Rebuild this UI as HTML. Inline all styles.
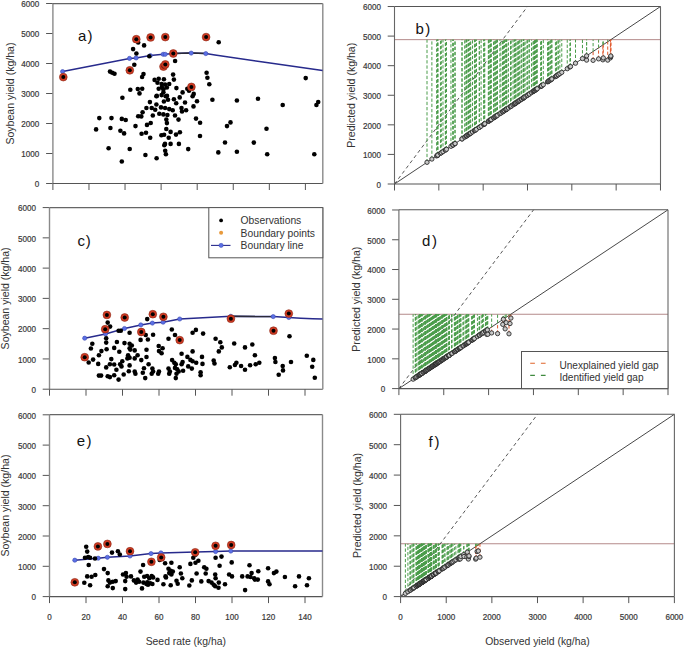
<!DOCTYPE html><html><head><meta charset="utf-8"><style>html,body{margin:0;padding:0;background:#fff}svg{display:block}</style></head><body>
<svg width="685" height="649" viewBox="0 0 685 649" font-family="'Liberation Sans', sans-serif">
<rect width="685" height="649" fill="#fff"/>
<line x1="46.1" y1="183.5" x2="52.9" y2="183.5" stroke="#555" stroke-width="1"/>
<text transform="translate(39.3,187.3) scale(0.92,1)" text-anchor="end" font-size="8.8" fill="#383838" stroke="#383838" stroke-width="0.2">0</text>
<line x1="46.1" y1="153.5" x2="52.9" y2="153.5" stroke="#555" stroke-width="1"/>
<text transform="translate(39.3,157.3) scale(0.92,1)" text-anchor="end" font-size="8.8" fill="#383838" stroke="#383838" stroke-width="0.2">1000</text>
<line x1="46.1" y1="123.5" x2="52.9" y2="123.5" stroke="#555" stroke-width="1"/>
<text transform="translate(39.3,127.3) scale(0.92,1)" text-anchor="end" font-size="8.8" fill="#383838" stroke="#383838" stroke-width="0.2">2000</text>
<line x1="46.1" y1="93.5" x2="52.9" y2="93.5" stroke="#555" stroke-width="1"/>
<text transform="translate(39.3,97.3) scale(0.92,1)" text-anchor="end" font-size="8.8" fill="#383838" stroke="#383838" stroke-width="0.2">3000</text>
<line x1="46.1" y1="63.5" x2="52.9" y2="63.5" stroke="#555" stroke-width="1"/>
<text transform="translate(39.3,67.3) scale(0.92,1)" text-anchor="end" font-size="8.8" fill="#383838" stroke="#383838" stroke-width="0.2">4000</text>
<line x1="46.1" y1="33.5" x2="52.9" y2="33.5" stroke="#555" stroke-width="1"/>
<text transform="translate(39.3,37.3) scale(0.92,1)" text-anchor="end" font-size="8.8" fill="#383838" stroke="#383838" stroke-width="0.2">5000</text>
<line x1="46.1" y1="3.5" x2="52.9" y2="3.5" stroke="#555" stroke-width="1"/>
<text transform="translate(39.3,7.3) scale(0.92,1)" text-anchor="end" font-size="8.8" fill="#383838" stroke="#383838" stroke-width="0.2">6000</text>
<line x1="52.9" y1="183.5" x2="52.9" y2="190" stroke="#555" stroke-width="1"/>
<line x1="88.97" y1="183.5" x2="88.97" y2="190" stroke="#555" stroke-width="1"/>
<line x1="125.04" y1="183.5" x2="125.04" y2="190" stroke="#555" stroke-width="1"/>
<line x1="161.12" y1="183.5" x2="161.12" y2="190" stroke="#555" stroke-width="1"/>
<line x1="197.19" y1="183.5" x2="197.19" y2="190" stroke="#555" stroke-width="1"/>
<line x1="233.26" y1="183.5" x2="233.26" y2="190" stroke="#555" stroke-width="1"/>
<line x1="269.33" y1="183.5" x2="269.33" y2="190" stroke="#555" stroke-width="1"/>
<line x1="305.4" y1="183.5" x2="305.4" y2="190" stroke="#555" stroke-width="1"/>
<line x1="52.9" y1="3.6" x2="52.9" y2="183.5" stroke="#8a8a8a" stroke-width="1.4"/>
<line x1="52.9" y1="183.5" x2="322.8" y2="183.5" stroke="#555" stroke-width="1.1"/>
<line x1="52.9" y1="3.6" x2="322.8" y2="3.6" stroke="#666" stroke-width="1.1"/>
<line x1="322.8" y1="3.6" x2="322.8" y2="183.5" stroke="#8a8a8a" stroke-width="1.4"/>
<text transform="translate(13.6,93.55) rotate(-90)" text-anchor="middle" font-size="10.55" fill="#333">Soybean yield (kg/ha)</text>
<text x="78.1" y="40.5" font-size="15" fill="#111">a</text><text x="87.5" y="40.5" font-size="15" fill="#111">)</text>
<polyline points="62.6,71.6 129.5,58.4 136.1,57.9 150.3,55.6 163.2,54.3 165.2,54.3 173.3,53.4 191.2,53.1 205.8,53.6 215,55.1 263,62 322.6,70.6" fill="none" stroke="#272a8c" stroke-width="1.5"/>
<polyline points="173.3,53.4 191.2,53.1 205.8,53.6" fill="none" stroke="#2a2a3a" stroke-width="1.5"/>
<circle cx="62.6" cy="71.6" r="2.1" fill="#5b70e6" stroke="#3a48b0" stroke-width="0.6"/>
<circle cx="129.5" cy="58.4" r="2.1" fill="#5b70e6" stroke="#3a48b0" stroke-width="0.6"/>
<circle cx="136.1" cy="57.9" r="2.1" fill="#5b70e6" stroke="#3a48b0" stroke-width="0.6"/>
<circle cx="150.3" cy="55.6" r="2.1" fill="#5b70e6" stroke="#3a48b0" stroke-width="0.6"/>
<circle cx="163.2" cy="54.3" r="2.1" fill="#5b70e6" stroke="#3a48b0" stroke-width="0.6"/>
<circle cx="165.2" cy="54.3" r="2.1" fill="#5b70e6" stroke="#3a48b0" stroke-width="0.6"/>
<circle cx="173.3" cy="53.4" r="2.1" fill="#5b70e6" stroke="#3a48b0" stroke-width="0.6"/>
<circle cx="191.2" cy="53.1" r="2.1" fill="#5b70e6" stroke="#3a48b0" stroke-width="0.6"/>
<circle cx="205.8" cy="53.6" r="2.1" fill="#5b70e6" stroke="#3a48b0" stroke-width="0.6"/>
<circle cx="110" cy="71.6" r="2.3" fill="#000"/>
<circle cx="112.3" cy="72.8" r="2.3" fill="#000"/>
<circle cx="114.5" cy="73.8" r="2.3" fill="#000"/>
<circle cx="133.1" cy="49.1" r="2.3" fill="#000"/>
<circle cx="136.4" cy="53.5" r="2.3" fill="#000"/>
<circle cx="134.3" cy="64.8" r="2.3" fill="#000"/>
<circle cx="138.2" cy="42.5" r="2.3" fill="#000"/>
<circle cx="144.1" cy="45.4" r="2.3" fill="#000"/>
<circle cx="143.5" cy="74.1" r="2.3" fill="#000"/>
<circle cx="142.1" cy="77" r="2.3" fill="#000"/>
<circle cx="130.3" cy="89.8" r="2.3" fill="#000"/>
<circle cx="137.8" cy="89" r="2.3" fill="#000"/>
<circle cx="142.2" cy="88.7" r="2.3" fill="#000"/>
<circle cx="139.5" cy="93.4" r="2.3" fill="#000"/>
<circle cx="122.4" cy="97.8" r="2.3" fill="#000"/>
<circle cx="149.3" cy="56.3" r="2.3" fill="#000"/>
<circle cx="175.1" cy="61" r="2.3" fill="#000"/>
<circle cx="173.1" cy="74.6" r="2.3" fill="#000"/>
<circle cx="173.9" cy="79.6" r="2.3" fill="#000"/>
<circle cx="206.6" cy="72.7" r="2.3" fill="#000"/>
<circle cx="207.4" cy="77.7" r="2.3" fill="#000"/>
<circle cx="209.3" cy="84.2" r="2.3" fill="#000"/>
<circle cx="218.7" cy="42.2" r="2.3" fill="#000"/>
<circle cx="212.4" cy="99.8" r="2.3" fill="#000"/>
<circle cx="187.3" cy="88.7" r="2.3" fill="#000"/>
<circle cx="189" cy="90.8" r="2.3" fill="#000"/>
<circle cx="193.7" cy="93.9" r="2.3" fill="#000"/>
<circle cx="192.6" cy="96.3" r="2.3" fill="#000"/>
<circle cx="197" cy="101.3" r="2.3" fill="#000"/>
<circle cx="193.5" cy="106.4" r="2.3" fill="#000"/>
<circle cx="196" cy="118.6" r="2.3" fill="#000"/>
<circle cx="200.1" cy="122.8" r="2.3" fill="#000"/>
<circle cx="182.6" cy="92.4" r="2.3" fill="#000"/>
<circle cx="179.7" cy="97.4" r="2.3" fill="#000"/>
<circle cx="176.4" cy="88.1" r="2.3" fill="#000"/>
<circle cx="185" cy="102.5" r="2.3" fill="#000"/>
<circle cx="181.5" cy="108" r="2.3" fill="#000"/>
<circle cx="186.1" cy="110.3" r="2.3" fill="#000"/>
<circle cx="182" cy="111.5" r="2.3" fill="#000"/>
<circle cx="173.9" cy="99.2" r="2.3" fill="#000"/>
<circle cx="176.2" cy="103.3" r="2.3" fill="#000"/>
<circle cx="178.5" cy="119.6" r="2.3" fill="#000"/>
<circle cx="175" cy="115.5" r="2.3" fill="#000"/>
<circle cx="154.6" cy="79.9" r="2.3" fill="#000"/>
<circle cx="158.7" cy="78.8" r="2.3" fill="#000"/>
<circle cx="163.9" cy="79.3" r="2.3" fill="#000"/>
<circle cx="157.5" cy="82.8" r="2.3" fill="#000"/>
<circle cx="161.6" cy="84" r="2.3" fill="#000"/>
<circle cx="165.1" cy="84.6" r="2.3" fill="#000"/>
<circle cx="169.2" cy="84" r="2.3" fill="#000"/>
<circle cx="158.7" cy="88.7" r="2.3" fill="#000"/>
<circle cx="163.4" cy="89.3" r="2.3" fill="#000"/>
<circle cx="166.9" cy="87.5" r="2.3" fill="#000"/>
<circle cx="156.4" cy="96.3" r="2.3" fill="#000"/>
<circle cx="161.6" cy="95.1" r="2.3" fill="#000"/>
<circle cx="165.7" cy="96.3" r="2.3" fill="#000"/>
<circle cx="168" cy="99.8" r="2.3" fill="#000"/>
<circle cx="163.9" cy="101.5" r="2.3" fill="#000"/>
<circle cx="149.9" cy="102.1" r="2.3" fill="#000"/>
<circle cx="156.4" cy="104.5" r="2.3" fill="#000"/>
<circle cx="146.4" cy="108" r="2.3" fill="#000"/>
<circle cx="151.7" cy="108" r="2.3" fill="#000"/>
<circle cx="155.2" cy="109.7" r="2.3" fill="#000"/>
<circle cx="161" cy="107.4" r="2.3" fill="#000"/>
<circle cx="165.1" cy="108" r="2.3" fill="#000"/>
<circle cx="169.2" cy="109.1" r="2.3" fill="#000"/>
<circle cx="172.7" cy="110.3" r="2.3" fill="#000"/>
<circle cx="159.3" cy="113.8" r="2.3" fill="#000"/>
<circle cx="163.4" cy="114.4" r="2.3" fill="#000"/>
<circle cx="167.4" cy="115" r="2.3" fill="#000"/>
<circle cx="142.6" cy="112.2" r="2.3" fill="#000"/>
<circle cx="141.3" cy="116.4" r="2.3" fill="#000"/>
<circle cx="152.8" cy="115.5" r="2.3" fill="#000"/>
<circle cx="166.3" cy="119.6" r="2.3" fill="#000"/>
<circle cx="166.9" cy="123.1" r="2.3" fill="#000"/>
<circle cx="147" cy="124.9" r="2.3" fill="#000"/>
<circle cx="150.7" cy="123" r="2.3" fill="#000"/>
<circle cx="166.3" cy="129" r="2.3" fill="#000"/>
<circle cx="161.9" cy="87.2" r="2.3" fill="#000"/>
<circle cx="163.4" cy="92.3" r="2.3" fill="#000"/>
<circle cx="156.8" cy="95.9" r="2.3" fill="#000"/>
<circle cx="167" cy="95.9" r="2.3" fill="#000"/>
<circle cx="138.2" cy="116.3" r="2.3" fill="#000"/>
<circle cx="99.3" cy="118.1" r="2.3" fill="#000"/>
<circle cx="111.5" cy="118.1" r="2.3" fill="#000"/>
<circle cx="121.8" cy="118.9" r="2.3" fill="#000"/>
<circle cx="125.7" cy="120" r="2.3" fill="#000"/>
<circle cx="135.5" cy="126.1" r="2.3" fill="#000"/>
<circle cx="96.1" cy="129.4" r="2.3" fill="#000"/>
<circle cx="110.4" cy="128" r="2.3" fill="#000"/>
<circle cx="120.4" cy="130.7" r="2.3" fill="#000"/>
<circle cx="124.1" cy="133.4" r="2.3" fill="#000"/>
<circle cx="141.6" cy="133.8" r="2.3" fill="#000"/>
<circle cx="146" cy="132.8" r="2.3" fill="#000"/>
<circle cx="150.2" cy="137.8" r="2.3" fill="#000"/>
<circle cx="108.6" cy="148.3" r="2.3" fill="#000"/>
<circle cx="129.7" cy="149" r="2.3" fill="#000"/>
<circle cx="145.4" cy="155" r="2.3" fill="#000"/>
<circle cx="121.8" cy="161.5" r="2.3" fill="#000"/>
<circle cx="156.6" cy="158.2" r="2.3" fill="#000"/>
<circle cx="170.6" cy="131.9" r="2.3" fill="#000"/>
<circle cx="161.4" cy="135.2" r="2.3" fill="#000"/>
<circle cx="164.1" cy="134.7" r="2.3" fill="#000"/>
<circle cx="168.7" cy="137.8" r="2.3" fill="#000"/>
<circle cx="176" cy="134.6" r="2.3" fill="#000"/>
<circle cx="179.9" cy="132.2" r="2.3" fill="#000"/>
<circle cx="165" cy="143.9" r="2.3" fill="#000"/>
<circle cx="164.3" cy="145.3" r="2.3" fill="#000"/>
<circle cx="170.6" cy="143.9" r="2.3" fill="#000"/>
<circle cx="178.9" cy="143.9" r="2.3" fill="#000"/>
<circle cx="165.2" cy="150.7" r="2.3" fill="#000"/>
<circle cx="165.9" cy="154.3" r="2.3" fill="#000"/>
<circle cx="188.2" cy="149.1" r="2.3" fill="#000"/>
<circle cx="200" cy="136" r="2.3" fill="#000"/>
<circle cx="227" cy="126.1" r="2.3" fill="#000"/>
<circle cx="230.5" cy="122.4" r="2.3" fill="#000"/>
<circle cx="225" cy="142.5" r="2.3" fill="#000"/>
<circle cx="218.3" cy="152.4" r="2.3" fill="#000"/>
<circle cx="236.9" cy="100.5" r="2.3" fill="#000"/>
<circle cx="258" cy="98.7" r="2.3" fill="#000"/>
<circle cx="282.7" cy="105" r="2.3" fill="#000"/>
<circle cx="316.4" cy="105" r="2.3" fill="#000"/>
<circle cx="318.2" cy="102" r="2.3" fill="#000"/>
<circle cx="305.7" cy="78.1" r="2.3" fill="#000"/>
<circle cx="253.8" cy="142.6" r="2.3" fill="#000"/>
<circle cx="266.5" cy="128.8" r="2.3" fill="#000"/>
<circle cx="236.9" cy="151.8" r="2.3" fill="#000"/>
<circle cx="267.2" cy="154.2" r="2.3" fill="#000"/>
<circle cx="314.3" cy="154.2" r="2.3" fill="#000"/>
<circle cx="63.3" cy="77.1" r="3.9" fill="#d03a22" stroke="#8a2a1a" stroke-width="0.6"/>
<circle cx="63.3" cy="77.1" r="2" fill="#000"/>
<circle cx="129.8" cy="70.3" r="3.9" fill="#d03a22" stroke="#8a2a1a" stroke-width="0.6"/>
<circle cx="129.8" cy="70.3" r="2" fill="#000"/>
<circle cx="136.3" cy="39.2" r="3.9" fill="#d03a22" stroke="#8a2a1a" stroke-width="0.6"/>
<circle cx="136.3" cy="39.2" r="2" fill="#000"/>
<circle cx="150.6" cy="37.4" r="3.9" fill="#d03a22" stroke="#8a2a1a" stroke-width="0.6"/>
<circle cx="150.6" cy="37.4" r="2" fill="#000"/>
<circle cx="165.3" cy="37.1" r="3.9" fill="#d03a22" stroke="#8a2a1a" stroke-width="0.6"/>
<circle cx="165.3" cy="37.1" r="2" fill="#000"/>
<circle cx="206.1" cy="37.1" r="3.9" fill="#d03a22" stroke="#8a2a1a" stroke-width="0.6"/>
<circle cx="206.1" cy="37.1" r="2" fill="#000"/>
<circle cx="173.3" cy="53.5" r="3.9" fill="#d03a22" stroke="#8a2a1a" stroke-width="0.6"/>
<circle cx="173.3" cy="53.5" r="2" fill="#000"/>
<circle cx="163.5" cy="66.6" r="3.9" fill="#d03a22" stroke="#8a2a1a" stroke-width="0.6"/>
<circle cx="163.5" cy="66.6" r="2" fill="#000"/>
<circle cx="165.3" cy="64.4" r="3.9" fill="#d03a22" stroke="#8a2a1a" stroke-width="0.6"/>
<circle cx="165.3" cy="64.4" r="2" fill="#000"/>
<circle cx="191.4" cy="86.9" r="3.9" fill="#d03a22" stroke="#8a2a1a" stroke-width="0.6"/>
<circle cx="191.4" cy="86.9" r="2" fill="#000"/>
<line x1="42.7" y1="389.2" x2="49.5" y2="389.2" stroke="#555" stroke-width="1"/>
<text transform="translate(35.9,393) scale(0.92,1)" text-anchor="end" font-size="8.8" fill="#383838" stroke="#383838" stroke-width="0.2">0</text>
<line x1="42.7" y1="358.93" x2="49.5" y2="358.93" stroke="#555" stroke-width="1"/>
<text transform="translate(35.9,362.73) scale(0.92,1)" text-anchor="end" font-size="8.8" fill="#383838" stroke="#383838" stroke-width="0.2">1000</text>
<line x1="42.7" y1="328.66" x2="49.5" y2="328.66" stroke="#555" stroke-width="1"/>
<text transform="translate(35.9,332.46) scale(0.92,1)" text-anchor="end" font-size="8.8" fill="#383838" stroke="#383838" stroke-width="0.2">2000</text>
<line x1="42.7" y1="298.39" x2="49.5" y2="298.39" stroke="#555" stroke-width="1"/>
<text transform="translate(35.9,302.19) scale(0.92,1)" text-anchor="end" font-size="8.8" fill="#383838" stroke="#383838" stroke-width="0.2">3000</text>
<line x1="42.7" y1="268.12" x2="49.5" y2="268.12" stroke="#555" stroke-width="1"/>
<text transform="translate(35.9,271.92) scale(0.92,1)" text-anchor="end" font-size="8.8" fill="#383838" stroke="#383838" stroke-width="0.2">4000</text>
<line x1="42.7" y1="237.85" x2="49.5" y2="237.85" stroke="#555" stroke-width="1"/>
<text transform="translate(35.9,241.65) scale(0.92,1)" text-anchor="end" font-size="8.8" fill="#383838" stroke="#383838" stroke-width="0.2">5000</text>
<line x1="42.7" y1="207.58" x2="49.5" y2="207.58" stroke="#555" stroke-width="1"/>
<text transform="translate(35.9,211.38) scale(0.92,1)" text-anchor="end" font-size="8.8" fill="#383838" stroke="#383838" stroke-width="0.2">6000</text>
<line x1="49.5" y1="389.2" x2="49.5" y2="395.7" stroke="#555" stroke-width="1"/>
<line x1="86" y1="389.2" x2="86" y2="395.7" stroke="#555" stroke-width="1"/>
<line x1="122.5" y1="389.2" x2="122.5" y2="395.7" stroke="#555" stroke-width="1"/>
<line x1="159" y1="389.2" x2="159" y2="395.7" stroke="#555" stroke-width="1"/>
<line x1="195.5" y1="389.2" x2="195.5" y2="395.7" stroke="#555" stroke-width="1"/>
<line x1="232" y1="389.2" x2="232" y2="395.7" stroke="#555" stroke-width="1"/>
<line x1="268.5" y1="389.2" x2="268.5" y2="395.7" stroke="#555" stroke-width="1"/>
<line x1="305" y1="389.2" x2="305" y2="395.7" stroke="#555" stroke-width="1"/>
<line x1="49.5" y1="207.6" x2="49.5" y2="389.2" stroke="#8a8a8a" stroke-width="1.4"/>
<line x1="49.5" y1="389.2" x2="322.8" y2="389.2" stroke="#555" stroke-width="1.1"/>
<line x1="49.5" y1="207.6" x2="322.8" y2="207.6" stroke="#666" stroke-width="1.1"/>
<line x1="322.8" y1="207.6" x2="322.8" y2="389.2" stroke="#8a8a8a" stroke-width="1.4"/>
<text transform="translate(9.3,298.4) rotate(-90)" text-anchor="middle" font-size="10.55" fill="#333">Soybean yield (kg/ha)</text>
<text x="77.4" y="246" font-size="15" fill="#111">c</text><text x="85.7" y="246" font-size="15" fill="#111">)</text>
<polyline points="84.7,338.2 105.5,333.9 124.5,328.5 140.8,324.9 152.4,323.1 163.1,322.2 179.7,319 230.8,316.3 273.2,316.6 288.8,317.5 300.9,318.2 312.6,318.7 322.5,319" fill="none" stroke="#272a8c" stroke-width="1.5"/>
<polyline points="230.8,316.3 273.2,316.6" fill="none" stroke="#2a2a3a" stroke-width="1.5"/>
<circle cx="84.7" cy="338.2" r="2.1" fill="#5b70e6" stroke="#3a48b0" stroke-width="0.6"/>
<circle cx="105.5" cy="333.9" r="2.1" fill="#5b70e6" stroke="#3a48b0" stroke-width="0.6"/>
<circle cx="124.5" cy="328.5" r="2.1" fill="#5b70e6" stroke="#3a48b0" stroke-width="0.6"/>
<circle cx="140.8" cy="324.9" r="2.1" fill="#5b70e6" stroke="#3a48b0" stroke-width="0.6"/>
<circle cx="152.4" cy="323.1" r="2.1" fill="#5b70e6" stroke="#3a48b0" stroke-width="0.6"/>
<circle cx="163.1" cy="322.2" r="2.1" fill="#5b70e6" stroke="#3a48b0" stroke-width="0.6"/>
<circle cx="179.7" cy="319" r="2.1" fill="#5b70e6" stroke="#3a48b0" stroke-width="0.6"/>
<circle cx="230.8" cy="316.3" r="2.1" fill="#5b70e6" stroke="#3a48b0" stroke-width="0.6"/>
<circle cx="273.2" cy="316.6" r="2.1" fill="#5b70e6" stroke="#3a48b0" stroke-width="0.6"/>
<circle cx="288.8" cy="317.5" r="2.1" fill="#5b70e6" stroke="#3a48b0" stroke-width="0.6"/>
<circle cx="107.7" cy="322.6" r="2.3" fill="#000"/>
<circle cx="110.1" cy="326.6" r="2.3" fill="#000"/>
<circle cx="104.7" cy="329.9" r="2.3" fill="#000"/>
<circle cx="118.6" cy="330.7" r="2.3" fill="#000"/>
<circle cx="120.8" cy="330.7" r="2.3" fill="#000"/>
<circle cx="129.6" cy="332.8" r="2.3" fill="#000"/>
<circle cx="147.2" cy="319.1" r="2.3" fill="#000"/>
<circle cx="106.2" cy="338.2" r="2.3" fill="#000"/>
<circle cx="106.2" cy="342.6" r="2.3" fill="#000"/>
<circle cx="92.3" cy="343.8" r="2.3" fill="#000"/>
<circle cx="90.9" cy="348.5" r="2.3" fill="#000"/>
<circle cx="116.9" cy="342" r="2.3" fill="#000"/>
<circle cx="124.5" cy="343.1" r="2.3" fill="#000"/>
<circle cx="129.6" cy="343.8" r="2.3" fill="#000"/>
<circle cx="131.8" cy="345.5" r="2.3" fill="#000"/>
<circle cx="140.6" cy="339.9" r="2.3" fill="#000"/>
<circle cx="145.7" cy="335" r="2.3" fill="#000"/>
<circle cx="147.9" cy="339.5" r="2.3" fill="#000"/>
<circle cx="106.6" cy="349.3" r="2.3" fill="#000"/>
<circle cx="114.2" cy="347.9" r="2.3" fill="#000"/>
<circle cx="101.4" cy="351.1" r="2.3" fill="#000"/>
<circle cx="119.3" cy="351.8" r="2.3" fill="#000"/>
<circle cx="129.6" cy="348.2" r="2.3" fill="#000"/>
<circle cx="130.3" cy="349.6" r="2.3" fill="#000"/>
<circle cx="134.7" cy="350.4" r="2.3" fill="#000"/>
<circle cx="146.5" cy="349.7" r="2.3" fill="#000"/>
<circle cx="98.9" cy="355.2" r="2.3" fill="#000"/>
<circle cx="93.1" cy="359.6" r="2.3" fill="#000"/>
<circle cx="88.7" cy="362.5" r="2.3" fill="#000"/>
<circle cx="98.2" cy="363.9" r="2.3" fill="#000"/>
<circle cx="111.3" cy="359.1" r="2.3" fill="#000"/>
<circle cx="128.1" cy="355.2" r="2.3" fill="#000"/>
<circle cx="129.6" cy="357.7" r="2.3" fill="#000"/>
<circle cx="127.4" cy="358.4" r="2.3" fill="#000"/>
<circle cx="137.6" cy="355.2" r="2.3" fill="#000"/>
<circle cx="134.7" cy="358.4" r="2.3" fill="#000"/>
<circle cx="141.3" cy="360.1" r="2.3" fill="#000"/>
<circle cx="146.5" cy="357" r="2.3" fill="#000"/>
<circle cx="109.9" cy="364.2" r="2.3" fill="#000"/>
<circle cx="114.2" cy="364.5" r="2.3" fill="#000"/>
<circle cx="122.3" cy="361.3" r="2.3" fill="#000"/>
<circle cx="120.1" cy="364.2" r="2.3" fill="#000"/>
<circle cx="121.5" cy="366.4" r="2.3" fill="#000"/>
<circle cx="106.2" cy="367.4" r="2.3" fill="#000"/>
<circle cx="116.4" cy="369.8" r="2.3" fill="#000"/>
<circle cx="129.6" cy="365.4" r="2.3" fill="#000"/>
<circle cx="144" cy="368.3" r="2.3" fill="#000"/>
<circle cx="148.6" cy="364.2" r="2.3" fill="#000"/>
<circle cx="128.8" cy="371.2" r="2.3" fill="#000"/>
<circle cx="134.7" cy="371.5" r="2.3" fill="#000"/>
<circle cx="135.4" cy="373.7" r="2.3" fill="#000"/>
<circle cx="142.8" cy="372.7" r="2.3" fill="#000"/>
<circle cx="98.9" cy="375.6" r="2.3" fill="#000"/>
<circle cx="101.1" cy="375.6" r="2.3" fill="#000"/>
<circle cx="107.7" cy="376.2" r="2.3" fill="#000"/>
<circle cx="109.9" cy="377.1" r="2.3" fill="#000"/>
<circle cx="114.2" cy="375.2" r="2.3" fill="#000"/>
<circle cx="123.7" cy="374.5" r="2.3" fill="#000"/>
<circle cx="118.6" cy="379.6" r="2.3" fill="#000"/>
<circle cx="145.2" cy="378.1" r="2.3" fill="#000"/>
<circle cx="171.8" cy="329.5" r="2.3" fill="#000"/>
<circle cx="175" cy="335" r="2.3" fill="#000"/>
<circle cx="168.5" cy="338.7" r="2.3" fill="#000"/>
<circle cx="153.1" cy="334.7" r="2.3" fill="#000"/>
<circle cx="192.6" cy="332.8" r="2.3" fill="#000"/>
<circle cx="195.9" cy="329.9" r="2.3" fill="#000"/>
<circle cx="203.1" cy="333.6" r="2.3" fill="#000"/>
<circle cx="215.6" cy="338.7" r="2.3" fill="#000"/>
<circle cx="220.3" cy="342.3" r="2.3" fill="#000"/>
<circle cx="221.8" cy="347.4" r="2.3" fill="#000"/>
<circle cx="218.8" cy="351.4" r="2.3" fill="#000"/>
<circle cx="234.2" cy="343.5" r="2.3" fill="#000"/>
<circle cx="158.7" cy="346" r="2.3" fill="#000"/>
<circle cx="162.6" cy="348.2" r="2.3" fill="#000"/>
<circle cx="159" cy="351.1" r="2.3" fill="#000"/>
<circle cx="161.6" cy="353.3" r="2.3" fill="#000"/>
<circle cx="181.6" cy="353.7" r="2.3" fill="#000"/>
<circle cx="192.6" cy="351.4" r="2.3" fill="#000"/>
<circle cx="187.4" cy="356.9" r="2.3" fill="#000"/>
<circle cx="190.4" cy="359.9" r="2.3" fill="#000"/>
<circle cx="192.6" cy="361.3" r="2.3" fill="#000"/>
<circle cx="196.2" cy="362.8" r="2.3" fill="#000"/>
<circle cx="202" cy="356.9" r="2.3" fill="#000"/>
<circle cx="202.5" cy="363.9" r="2.3" fill="#000"/>
<circle cx="172.1" cy="360.1" r="2.3" fill="#000"/>
<circle cx="174.3" cy="362.8" r="2.3" fill="#000"/>
<circle cx="175.8" cy="364.2" r="2.3" fill="#000"/>
<circle cx="182.6" cy="362" r="2.3" fill="#000"/>
<circle cx="181.6" cy="364.2" r="2.3" fill="#000"/>
<circle cx="213.7" cy="360.6" r="2.3" fill="#000"/>
<circle cx="214.5" cy="363.5" r="2.3" fill="#000"/>
<circle cx="236.4" cy="362.8" r="2.3" fill="#000"/>
<circle cx="234.9" cy="365" r="2.3" fill="#000"/>
<circle cx="229.8" cy="367.2" r="2.3" fill="#000"/>
<circle cx="188.2" cy="366.4" r="2.3" fill="#000"/>
<circle cx="191.8" cy="368.6" r="2.3" fill="#000"/>
<circle cx="152.4" cy="368.6" r="2.3" fill="#000"/>
<circle cx="153.1" cy="371.5" r="2.3" fill="#000"/>
<circle cx="151.7" cy="373.7" r="2.3" fill="#000"/>
<circle cx="159" cy="371.5" r="2.3" fill="#000"/>
<circle cx="158.2" cy="373.7" r="2.3" fill="#000"/>
<circle cx="168.5" cy="368.6" r="2.3" fill="#000"/>
<circle cx="169.9" cy="371.5" r="2.3" fill="#000"/>
<circle cx="169.2" cy="373.7" r="2.3" fill="#000"/>
<circle cx="175" cy="367.9" r="2.3" fill="#000"/>
<circle cx="177.2" cy="369.3" r="2.3" fill="#000"/>
<circle cx="178.7" cy="371.5" r="2.3" fill="#000"/>
<circle cx="176.5" cy="373.7" r="2.3" fill="#000"/>
<circle cx="183.1" cy="370.8" r="2.3" fill="#000"/>
<circle cx="200.6" cy="372.3" r="2.3" fill="#000"/>
<circle cx="200.6" cy="375.2" r="2.3" fill="#000"/>
<circle cx="175.8" cy="378.1" r="2.3" fill="#000"/>
<circle cx="289.5" cy="336.2" r="2.3" fill="#000"/>
<circle cx="245" cy="347.4" r="2.3" fill="#000"/>
<circle cx="252.3" cy="344.5" r="2.3" fill="#000"/>
<circle cx="254.9" cy="355.2" r="2.3" fill="#000"/>
<circle cx="241.1" cy="366" r="2.3" fill="#000"/>
<circle cx="245" cy="369.8" r="2.3" fill="#000"/>
<circle cx="250.1" cy="365.3" r="2.3" fill="#000"/>
<circle cx="255.7" cy="364.2" r="2.3" fill="#000"/>
<circle cx="259.3" cy="362.8" r="2.3" fill="#000"/>
<circle cx="274.9" cy="358.1" r="2.3" fill="#000"/>
<circle cx="275.4" cy="362" r="2.3" fill="#000"/>
<circle cx="282.7" cy="366" r="2.3" fill="#000"/>
<circle cx="283" cy="370.4" r="2.3" fill="#000"/>
<circle cx="278.7" cy="374.7" r="2.3" fill="#000"/>
<circle cx="291" cy="362" r="2.3" fill="#000"/>
<circle cx="306.8" cy="355.8" r="2.3" fill="#000"/>
<circle cx="313.3" cy="359.9" r="2.3" fill="#000"/>
<circle cx="312.2" cy="366.7" r="2.3" fill="#000"/>
<circle cx="314.8" cy="377.7" r="2.3" fill="#000"/>
<circle cx="106.9" cy="314.9" r="3.9" fill="#d03a22" stroke="#8a2a1a" stroke-width="0.6"/>
<circle cx="106.9" cy="314.9" r="2" fill="#000"/>
<circle cx="124.7" cy="317.5" r="3.9" fill="#d03a22" stroke="#8a2a1a" stroke-width="0.6"/>
<circle cx="124.7" cy="317.5" r="2" fill="#000"/>
<circle cx="105.2" cy="329.2" r="3.9" fill="#d03a22" stroke="#8a2a1a" stroke-width="0.6"/>
<circle cx="105.2" cy="329.2" r="2" fill="#000"/>
<circle cx="141.3" cy="332" r="3.9" fill="#d03a22" stroke="#8a2a1a" stroke-width="0.6"/>
<circle cx="141.3" cy="332" r="2" fill="#000"/>
<circle cx="84.7" cy="357.2" r="3.9" fill="#d03a22" stroke="#8a2a1a" stroke-width="0.6"/>
<circle cx="84.7" cy="357.2" r="2" fill="#000"/>
<circle cx="152.8" cy="314.2" r="3.9" fill="#d03a22" stroke="#8a2a1a" stroke-width="0.6"/>
<circle cx="152.8" cy="314.2" r="2" fill="#000"/>
<circle cx="163.4" cy="316.8" r="3.9" fill="#d03a22" stroke="#8a2a1a" stroke-width="0.6"/>
<circle cx="163.4" cy="316.8" r="2" fill="#000"/>
<circle cx="179.7" cy="340.1" r="3.9" fill="#d03a22" stroke="#8a2a1a" stroke-width="0.6"/>
<circle cx="179.7" cy="340.1" r="2" fill="#000"/>
<circle cx="230.9" cy="318.7" r="3.9" fill="#d03a22" stroke="#8a2a1a" stroke-width="0.6"/>
<circle cx="230.9" cy="318.7" r="2" fill="#000"/>
<circle cx="273.5" cy="330.7" r="3.9" fill="#d03a22" stroke="#8a2a1a" stroke-width="0.6"/>
<circle cx="273.5" cy="330.7" r="2" fill="#000"/>
<circle cx="288.8" cy="313.6" r="3.9" fill="#d03a22" stroke="#8a2a1a" stroke-width="0.6"/>
<circle cx="288.8" cy="313.6" r="2" fill="#000"/>
<line x1="42.7" y1="596.6" x2="49.5" y2="596.6" stroke="#555" stroke-width="1"/>
<text transform="translate(35.9,600.4) scale(0.92,1)" text-anchor="end" font-size="8.8" fill="#383838" stroke="#383838" stroke-width="0.2">0</text>
<line x1="42.7" y1="566.3" x2="49.5" y2="566.3" stroke="#555" stroke-width="1"/>
<text transform="translate(35.9,570.1) scale(0.92,1)" text-anchor="end" font-size="8.8" fill="#383838" stroke="#383838" stroke-width="0.2">1000</text>
<line x1="42.7" y1="536" x2="49.5" y2="536" stroke="#555" stroke-width="1"/>
<text transform="translate(35.9,539.8) scale(0.92,1)" text-anchor="end" font-size="8.8" fill="#383838" stroke="#383838" stroke-width="0.2">2000</text>
<line x1="42.7" y1="505.7" x2="49.5" y2="505.7" stroke="#555" stroke-width="1"/>
<text transform="translate(35.9,509.5) scale(0.92,1)" text-anchor="end" font-size="8.8" fill="#383838" stroke="#383838" stroke-width="0.2">3000</text>
<line x1="42.7" y1="475.4" x2="49.5" y2="475.4" stroke="#555" stroke-width="1"/>
<text transform="translate(35.9,479.2) scale(0.92,1)" text-anchor="end" font-size="8.8" fill="#383838" stroke="#383838" stroke-width="0.2">4000</text>
<line x1="42.7" y1="445.1" x2="49.5" y2="445.1" stroke="#555" stroke-width="1"/>
<text transform="translate(35.9,448.9) scale(0.92,1)" text-anchor="end" font-size="8.8" fill="#383838" stroke="#383838" stroke-width="0.2">5000</text>
<line x1="42.7" y1="414.8" x2="49.5" y2="414.8" stroke="#555" stroke-width="1"/>
<text transform="translate(35.9,418.6) scale(0.92,1)" text-anchor="end" font-size="8.8" fill="#383838" stroke="#383838" stroke-width="0.2">6000</text>
<line x1="49.5" y1="596.6" x2="49.5" y2="603.1" stroke="#555" stroke-width="1"/>
<text transform="translate(49.5,619.6) scale(0.92,1)" text-anchor="middle" font-size="8.8" fill="#383838" stroke="#383838" stroke-width="0.2">0</text>
<line x1="86" y1="596.6" x2="86" y2="603.1" stroke="#555" stroke-width="1"/>
<text transform="translate(86,619.6) scale(0.92,1)" text-anchor="middle" font-size="8.8" fill="#383838" stroke="#383838" stroke-width="0.2">20</text>
<line x1="122.5" y1="596.6" x2="122.5" y2="603.1" stroke="#555" stroke-width="1"/>
<text transform="translate(122.5,619.6) scale(0.92,1)" text-anchor="middle" font-size="8.8" fill="#383838" stroke="#383838" stroke-width="0.2">40</text>
<line x1="159" y1="596.6" x2="159" y2="603.1" stroke="#555" stroke-width="1"/>
<text transform="translate(159,619.6) scale(0.92,1)" text-anchor="middle" font-size="8.8" fill="#383838" stroke="#383838" stroke-width="0.2">60</text>
<line x1="195.5" y1="596.6" x2="195.5" y2="603.1" stroke="#555" stroke-width="1"/>
<text transform="translate(195.5,619.6) scale(0.92,1)" text-anchor="middle" font-size="8.8" fill="#383838" stroke="#383838" stroke-width="0.2">80</text>
<line x1="232" y1="596.6" x2="232" y2="603.1" stroke="#555" stroke-width="1"/>
<text transform="translate(232,619.6) scale(0.92,1)" text-anchor="middle" font-size="8.8" fill="#383838" stroke="#383838" stroke-width="0.2">100</text>
<line x1="268.5" y1="596.6" x2="268.5" y2="603.1" stroke="#555" stroke-width="1"/>
<text transform="translate(268.5,619.6) scale(0.92,1)" text-anchor="middle" font-size="8.8" fill="#383838" stroke="#383838" stroke-width="0.2">120</text>
<line x1="305" y1="596.6" x2="305" y2="603.1" stroke="#555" stroke-width="1"/>
<text transform="translate(305,619.6) scale(0.92,1)" text-anchor="middle" font-size="8.8" fill="#383838" stroke="#383838" stroke-width="0.2">140</text>
<line x1="49.5" y1="414.6" x2="49.5" y2="596.6" stroke="#8a8a8a" stroke-width="1.4"/>
<line x1="49.5" y1="596.6" x2="322.5" y2="596.6" stroke="#555" stroke-width="1.1"/>
<line x1="49.5" y1="414.6" x2="322.5" y2="414.6" stroke="#666" stroke-width="1.1"/>
<line x1="322.5" y1="414.6" x2="322.5" y2="596.6" stroke="#8a8a8a" stroke-width="1.4"/>
<text transform="translate(9.3,505.6) rotate(-90)" text-anchor="middle" font-size="10.55" fill="#333">Soybean yield (kg/ha)</text>
<text x="76.7" y="446" font-size="15" fill="#111">e</text><text x="86.4" y="446" font-size="15" fill="#111">)</text>
<polyline points="74.8,560.2 98.2,558.2 107.4,557.3 130,556 151,553.6 160.9,552.9 195.2,551.9 215.6,551.6 230.8,551.1 322.5,550.9" fill="none" stroke="#272a8c" stroke-width="1.5"/>
<circle cx="74.8" cy="560.2" r="2.1" fill="#5b70e6" stroke="#3a48b0" stroke-width="0.6"/>
<circle cx="98.2" cy="558.2" r="2.1" fill="#5b70e6" stroke="#3a48b0" stroke-width="0.6"/>
<circle cx="107.4" cy="557.3" r="2.1" fill="#5b70e6" stroke="#3a48b0" stroke-width="0.6"/>
<circle cx="130" cy="556" r="2.1" fill="#5b70e6" stroke="#3a48b0" stroke-width="0.6"/>
<circle cx="151" cy="553.6" r="2.1" fill="#5b70e6" stroke="#3a48b0" stroke-width="0.6"/>
<circle cx="160.9" cy="552.9" r="2.1" fill="#5b70e6" stroke="#3a48b0" stroke-width="0.6"/>
<circle cx="195.2" cy="551.9" r="2.1" fill="#5b70e6" stroke="#3a48b0" stroke-width="0.6"/>
<circle cx="215.6" cy="551.6" r="2.1" fill="#5b70e6" stroke="#3a48b0" stroke-width="0.6"/>
<circle cx="230.8" cy="551.1" r="2.1" fill="#5b70e6" stroke="#3a48b0" stroke-width="0.6"/>
<circle cx="86.2" cy="546.8" r="2.3" fill="#000"/>
<circle cx="87.2" cy="551.6" r="2.3" fill="#000"/>
<circle cx="85" cy="557.7" r="2.3" fill="#000"/>
<circle cx="88.2" cy="557" r="2.3" fill="#000"/>
<circle cx="90.1" cy="557.7" r="2.3" fill="#000"/>
<circle cx="95" cy="558.5" r="2.3" fill="#000"/>
<circle cx="88.7" cy="565" r="2.3" fill="#000"/>
<circle cx="112" cy="552.6" r="2.3" fill="#000"/>
<circle cx="117.9" cy="551.2" r="2.3" fill="#000"/>
<circle cx="119.8" cy="554.5" r="2.3" fill="#000"/>
<circle cx="104" cy="569.1" r="2.3" fill="#000"/>
<circle cx="107.7" cy="573.1" r="2.3" fill="#000"/>
<circle cx="87.2" cy="576.4" r="2.3" fill="#000"/>
<circle cx="91.6" cy="576.7" r="2.3" fill="#000"/>
<circle cx="95.3" cy="575" r="2.3" fill="#000"/>
<circle cx="84.3" cy="582.8" r="2.3" fill="#000"/>
<circle cx="90.1" cy="585.2" r="2.3" fill="#000"/>
<circle cx="108.4" cy="580.4" r="2.3" fill="#000"/>
<circle cx="109.9" cy="582.6" r="2.3" fill="#000"/>
<circle cx="107.7" cy="586.2" r="2.3" fill="#000"/>
<circle cx="112.8" cy="581.8" r="2.3" fill="#000"/>
<circle cx="115.7" cy="581.1" r="2.3" fill="#000"/>
<circle cx="112.8" cy="588.1" r="2.3" fill="#000"/>
<circle cx="123" cy="574.5" r="2.3" fill="#000"/>
<circle cx="125.9" cy="573.1" r="2.3" fill="#000"/>
<circle cx="126.6" cy="576.7" r="2.3" fill="#000"/>
<circle cx="131" cy="576.4" r="2.3" fill="#000"/>
<circle cx="125.2" cy="581.1" r="2.3" fill="#000"/>
<circle cx="125.2" cy="589.1" r="2.3" fill="#000"/>
<circle cx="143.1" cy="565" r="2.3" fill="#000"/>
<circle cx="140.5" cy="571.6" r="2.3" fill="#000"/>
<circle cx="133.9" cy="580.4" r="2.3" fill="#000"/>
<circle cx="137.6" cy="579.6" r="2.3" fill="#000"/>
<circle cx="136.1" cy="582.6" r="2.3" fill="#000"/>
<circle cx="139.1" cy="581.8" r="2.3" fill="#000"/>
<circle cx="144.2" cy="576.7" r="2.3" fill="#000"/>
<circle cx="147.1" cy="576" r="2.3" fill="#000"/>
<circle cx="143.4" cy="582.6" r="2.3" fill="#000"/>
<circle cx="146.4" cy="584" r="2.3" fill="#000"/>
<circle cx="142" cy="588.4" r="2.3" fill="#000"/>
<circle cx="149.3" cy="578.2" r="2.3" fill="#000"/>
<circle cx="151.7" cy="576" r="2.3" fill="#000"/>
<circle cx="153.1" cy="577.4" r="2.3" fill="#000"/>
<circle cx="147.3" cy="582.3" r="2.3" fill="#000"/>
<circle cx="150.2" cy="583.3" r="2.3" fill="#000"/>
<circle cx="152.4" cy="584" r="2.3" fill="#000"/>
<circle cx="157.5" cy="579.9" r="2.3" fill="#000"/>
<circle cx="148" cy="584.7" r="2.3" fill="#000"/>
<circle cx="163.4" cy="584.3" r="2.3" fill="#000"/>
<circle cx="159.7" cy="559.9" r="2.3" fill="#000"/>
<circle cx="165.1" cy="563.3" r="2.3" fill="#000"/>
<circle cx="171.4" cy="562.8" r="2.3" fill="#000"/>
<circle cx="168.5" cy="568.7" r="2.3" fill="#000"/>
<circle cx="170.7" cy="570.9" r="2.3" fill="#000"/>
<circle cx="172.8" cy="571.6" r="2.3" fill="#000"/>
<circle cx="169.2" cy="573.1" r="2.3" fill="#000"/>
<circle cx="171.4" cy="574.5" r="2.3" fill="#000"/>
<circle cx="165.5" cy="576.4" r="2.3" fill="#000"/>
<circle cx="166" cy="577.4" r="2.3" fill="#000"/>
<circle cx="170.7" cy="585.2" r="2.3" fill="#000"/>
<circle cx="179.7" cy="567.2" r="2.3" fill="#000"/>
<circle cx="180.9" cy="573.5" r="2.3" fill="#000"/>
<circle cx="182.3" cy="578.2" r="2.3" fill="#000"/>
<circle cx="176.5" cy="580.8" r="2.3" fill="#000"/>
<circle cx="177.7" cy="583.7" r="2.3" fill="#000"/>
<circle cx="189.3" cy="585.5" r="2.3" fill="#000"/>
<circle cx="191.8" cy="580.4" r="2.3" fill="#000"/>
<circle cx="190.4" cy="563.9" r="2.3" fill="#000"/>
<circle cx="193.3" cy="557.7" r="2.3" fill="#000"/>
<circle cx="195.5" cy="554.8" r="2.3" fill="#000"/>
<circle cx="195.5" cy="562.8" r="2.3" fill="#000"/>
<circle cx="198.4" cy="560.7" r="2.3" fill="#000"/>
<circle cx="196.6" cy="573.5" r="2.3" fill="#000"/>
<circle cx="201.3" cy="581.4" r="2.3" fill="#000"/>
<circle cx="204.2" cy="567.2" r="2.3" fill="#000"/>
<circle cx="206.4" cy="568.7" r="2.3" fill="#000"/>
<circle cx="205.7" cy="573.5" r="2.3" fill="#000"/>
<circle cx="208.6" cy="581.1" r="2.3" fill="#000"/>
<circle cx="211.5" cy="582.6" r="2.3" fill="#000"/>
<circle cx="213.7" cy="584.7" r="2.3" fill="#000"/>
<circle cx="215.2" cy="586.2" r="2.3" fill="#000"/>
<circle cx="215.2" cy="574.5" r="2.3" fill="#000"/>
<circle cx="215.6" cy="578.2" r="2.3" fill="#000"/>
<circle cx="218.8" cy="582.6" r="2.3" fill="#000"/>
<circle cx="218.5" cy="587.7" r="2.3" fill="#000"/>
<circle cx="215.6" cy="557.7" r="2.3" fill="#000"/>
<circle cx="221.5" cy="556.6" r="2.3" fill="#000"/>
<circle cx="219.6" cy="565.8" r="2.3" fill="#000"/>
<circle cx="225" cy="584.3" r="2.3" fill="#000"/>
<circle cx="231.7" cy="562.4" r="2.3" fill="#000"/>
<circle cx="229.1" cy="574.5" r="2.3" fill="#000"/>
<circle cx="232" cy="576.4" r="2.3" fill="#000"/>
<circle cx="242.2" cy="576.4" r="2.3" fill="#000"/>
<circle cx="249.5" cy="565.3" r="2.3" fill="#000"/>
<circle cx="251.6" cy="573.1" r="2.3" fill="#000"/>
<circle cx="247.6" cy="576.4" r="2.3" fill="#000"/>
<circle cx="250.5" cy="577" r="2.3" fill="#000"/>
<circle cx="254.2" cy="578.2" r="2.3" fill="#000"/>
<circle cx="254.9" cy="579.6" r="2.3" fill="#000"/>
<circle cx="257.8" cy="579.6" r="2.3" fill="#000"/>
<circle cx="258.3" cy="571.2" r="2.3" fill="#000"/>
<circle cx="245.1" cy="590.1" r="2.3" fill="#000"/>
<circle cx="268.1" cy="568.2" r="2.3" fill="#000"/>
<circle cx="273.9" cy="573.1" r="2.3" fill="#000"/>
<circle cx="276.4" cy="571.6" r="2.3" fill="#000"/>
<circle cx="268.1" cy="581.4" r="2.3" fill="#000"/>
<circle cx="269.5" cy="584.3" r="2.3" fill="#000"/>
<circle cx="284.9" cy="577" r="2.3" fill="#000"/>
<circle cx="295.1" cy="586.2" r="2.3" fill="#000"/>
<circle cx="299" cy="576.4" r="2.3" fill="#000"/>
<circle cx="307" cy="585.2" r="2.3" fill="#000"/>
<circle cx="308.9" cy="578.2" r="2.3" fill="#000"/>
<circle cx="97.9" cy="546.4" r="3.9" fill="#d03a22" stroke="#8a2a1a" stroke-width="0.6"/>
<circle cx="97.9" cy="546.4" r="2" fill="#000"/>
<circle cx="107.4" cy="543.9" r="3.9" fill="#d03a22" stroke="#8a2a1a" stroke-width="0.6"/>
<circle cx="107.4" cy="543.9" r="2" fill="#000"/>
<circle cx="130" cy="551.2" r="3.9" fill="#d03a22" stroke="#8a2a1a" stroke-width="0.6"/>
<circle cx="130" cy="551.2" r="2" fill="#000"/>
<circle cx="74.8" cy="582.3" r="3.9" fill="#d03a22" stroke="#8a2a1a" stroke-width="0.6"/>
<circle cx="74.8" cy="582.3" r="2" fill="#000"/>
<circle cx="151.4" cy="561.8" r="3.9" fill="#d03a22" stroke="#8a2a1a" stroke-width="0.6"/>
<circle cx="151.4" cy="561.8" r="2" fill="#000"/>
<circle cx="161.2" cy="557.4" r="3.9" fill="#d03a22" stroke="#8a2a1a" stroke-width="0.6"/>
<circle cx="161.2" cy="557.4" r="2" fill="#000"/>
<circle cx="195.2" cy="552.3" r="3.9" fill="#d03a22" stroke="#8a2a1a" stroke-width="0.6"/>
<circle cx="195.2" cy="552.3" r="2" fill="#000"/>
<circle cx="215.6" cy="545.8" r="3.9" fill="#d03a22" stroke="#8a2a1a" stroke-width="0.6"/>
<circle cx="215.6" cy="545.8" r="2" fill="#000"/>
<circle cx="231.2" cy="545" r="3.9" fill="#d03a22" stroke="#8a2a1a" stroke-width="0.6"/>
<circle cx="231.2" cy="545" r="2" fill="#000"/>
<rect x="208.8" y="207.6" width="114" height="50.2" fill="#fff" stroke="#555" stroke-width="1"/>
<circle cx="221.1" cy="220.4" r="1.9" fill="#000"/>
<circle cx="221.1" cy="232.7" r="2" fill="#e89a3c"/>
<line x1="211" y1="245.4" x2="230.5" y2="245.4" stroke="#272a8c" stroke-width="1.1"/>
<circle cx="221.1" cy="245.4" r="2.1" fill="#5b70e6" stroke="#3a48b0" stroke-width="0.5"/>
<text x="240.6" y="224.3" font-size="10.3" fill="#333">Observations</text>
<text x="240.6" y="236.6" font-size="10.3" fill="#333">Boundary points</text>
<text x="240.6" y="248.9" font-size="10.3" fill="#333">Boundary line</text>
<text x="185.8" y="645.3" text-anchor="middle" font-size="10.4" fill="#333">Seed rate (kg/ha)</text>
<line x1="387.7" y1="184" x2="394.5" y2="184" stroke="#555" stroke-width="1"/>
<text transform="translate(380.9,187.8) scale(0.92,1)" text-anchor="end" font-size="8.8" fill="#383838" stroke="#383838" stroke-width="0.2">0</text>
<line x1="387.7" y1="154.42" x2="394.5" y2="154.42" stroke="#555" stroke-width="1"/>
<text transform="translate(380.9,158.22) scale(0.92,1)" text-anchor="end" font-size="8.8" fill="#383838" stroke="#383838" stroke-width="0.2">1000</text>
<line x1="387.7" y1="124.84" x2="394.5" y2="124.84" stroke="#555" stroke-width="1"/>
<text transform="translate(380.9,128.64) scale(0.92,1)" text-anchor="end" font-size="8.8" fill="#383838" stroke="#383838" stroke-width="0.2">2000</text>
<line x1="387.7" y1="95.26" x2="394.5" y2="95.26" stroke="#555" stroke-width="1"/>
<text transform="translate(380.9,99.06) scale(0.92,1)" text-anchor="end" font-size="8.8" fill="#383838" stroke="#383838" stroke-width="0.2">3000</text>
<line x1="387.7" y1="65.68" x2="394.5" y2="65.68" stroke="#555" stroke-width="1"/>
<text transform="translate(380.9,69.48) scale(0.92,1)" text-anchor="end" font-size="8.8" fill="#383838" stroke="#383838" stroke-width="0.2">4000</text>
<line x1="387.7" y1="36.1" x2="394.5" y2="36.1" stroke="#555" stroke-width="1"/>
<text transform="translate(380.9,39.9) scale(0.92,1)" text-anchor="end" font-size="8.8" fill="#383838" stroke="#383838" stroke-width="0.2">5000</text>
<line x1="387.7" y1="6.52" x2="394.5" y2="6.52" stroke="#555" stroke-width="1"/>
<text transform="translate(380.9,10.32) scale(0.92,1)" text-anchor="end" font-size="8.8" fill="#383838" stroke="#383838" stroke-width="0.2">6000</text>
<line x1="394.5" y1="184" x2="394.5" y2="190.5" stroke="#555" stroke-width="1"/>
<line x1="438.83" y1="184" x2="438.83" y2="190.5" stroke="#555" stroke-width="1"/>
<line x1="483.16" y1="184" x2="483.16" y2="190.5" stroke="#555" stroke-width="1"/>
<line x1="527.49" y1="184" x2="527.49" y2="190.5" stroke="#555" stroke-width="1"/>
<line x1="571.82" y1="184" x2="571.82" y2="190.5" stroke="#555" stroke-width="1"/>
<line x1="616.15" y1="184" x2="616.15" y2="190.5" stroke="#555" stroke-width="1"/>
<line x1="660.48" y1="184" x2="660.48" y2="190.5" stroke="#555" stroke-width="1"/>
<text transform="translate(355.3,95.25) rotate(-90)" text-anchor="middle" font-size="10.55" fill="#333">Predicted yield (kg/ha)</text>
<line x1="394.5" y1="39.65" x2="660.5" y2="39.65" stroke="#b48a8a" stroke-width="1"/>
<line x1="394.5" y1="184" x2="660.5" y2="6.5" stroke="#333" stroke-width="0.9"/>
<line x1="394.5" y1="184" x2="527.5" y2="6.5" stroke="#444" stroke-width="0.9" stroke-dasharray="3.5 3"/>
<line x1="559.85" y1="73.67" x2="559.85" y2="39.65" stroke="#4a9c4a" stroke-width="1" stroke-dasharray="3.3 1.9"/>
<line x1="558.08" y1="74.85" x2="558.08" y2="39.65" stroke="#4a9c4a" stroke-width="1" stroke-dasharray="3.3 1.9"/>
<line x1="556.6" y1="75.84" x2="556.6" y2="39.65" stroke="#4a9c4a" stroke-width="1" stroke-dasharray="3.3 1.9"/>
<line x1="593.1" y1="51.48" x2="593.1" y2="39.65" stroke="#4a9c4a" stroke-width="1" stroke-dasharray="3.3 1.9"/>
<line x1="593.1" y1="60.38" x2="593.1" y2="51.48" stroke="#e0562a" stroke-width="1" stroke-dasharray="3.3 1.9"/>
<line x1="586.6" y1="55.82" x2="586.6" y2="39.65" stroke="#4a9c4a" stroke-width="1" stroke-dasharray="3.3 1.9"/>
<line x1="586.6" y1="60.11" x2="586.6" y2="55.82" stroke="#e0562a" stroke-width="1" stroke-dasharray="3.3 1.9"/>
<line x1="569.9" y1="66.96" x2="569.9" y2="39.65" stroke="#4a9c4a" stroke-width="1" stroke-dasharray="3.3 1.9"/>
<line x1="602.85" y1="44.97" x2="602.85" y2="39.65" stroke="#4a9c4a" stroke-width="1" stroke-dasharray="3.3 1.9"/>
<line x1="602.85" y1="59.82" x2="602.85" y2="44.97" stroke="#e0562a" stroke-width="1" stroke-dasharray="3.3 1.9"/>
<line x1="598.57" y1="47.83" x2="598.57" y2="39.65" stroke="#4a9c4a" stroke-width="1" stroke-dasharray="3.3 1.9"/>
<line x1="598.57" y1="58.88" x2="598.57" y2="47.83" stroke="#e0562a" stroke-width="1" stroke-dasharray="3.3 1.9"/>
<line x1="556.16" y1="76.13" x2="556.16" y2="39.65" stroke="#4a9c4a" stroke-width="1" stroke-dasharray="3.3 1.9"/>
<line x1="551.87" y1="78.99" x2="551.87" y2="39.65" stroke="#4a9c4a" stroke-width="1" stroke-dasharray="3.3 1.9"/>
<line x1="532.96" y1="91.61" x2="532.96" y2="39.65" stroke="#4a9c4a" stroke-width="1" stroke-dasharray="3.3 1.9"/>
<line x1="534.14" y1="90.82" x2="534.14" y2="39.65" stroke="#4a9c4a" stroke-width="1" stroke-dasharray="3.3 1.9"/>
<line x1="534.58" y1="90.53" x2="534.58" y2="39.65" stroke="#4a9c4a" stroke-width="1" stroke-dasharray="3.3 1.9"/>
<line x1="527.64" y1="95.16" x2="527.64" y2="39.65" stroke="#4a9c4a" stroke-width="1" stroke-dasharray="3.3 1.9"/>
<line x1="521.14" y1="99.5" x2="521.14" y2="39.65" stroke="#4a9c4a" stroke-width="1" stroke-dasharray="3.3 1.9"/>
<line x1="582.46" y1="58.58" x2="582.46" y2="39.65" stroke="#4a9c4a" stroke-width="1" stroke-dasharray="3.3 1.9"/>
<line x1="575.51" y1="63.22" x2="575.51" y2="39.65" stroke="#4a9c4a" stroke-width="1" stroke-dasharray="3.3 1.9"/>
<line x1="555.42" y1="76.62" x2="555.42" y2="39.65" stroke="#4a9c4a" stroke-width="1" stroke-dasharray="3.3 1.9"/>
<line x1="548.03" y1="81.55" x2="548.03" y2="39.65" stroke="#4a9c4a" stroke-width="1" stroke-dasharray="3.3 1.9"/>
<line x1="558.23" y1="74.75" x2="558.23" y2="39.65" stroke="#4a9c4a" stroke-width="1" stroke-dasharray="3.3 1.9"/>
<line x1="550.84" y1="79.68" x2="550.84" y2="39.65" stroke="#4a9c4a" stroke-width="1" stroke-dasharray="3.3 1.9"/>
<line x1="541.23" y1="86.09" x2="541.23" y2="39.65" stroke="#4a9c4a" stroke-width="1" stroke-dasharray="3.3 1.9"/>
<line x1="603.29" y1="44.68" x2="603.29" y2="39.65" stroke="#4a9c4a" stroke-width="1" stroke-dasharray="3.3 1.9"/>
<line x1="603.29" y1="57.92" x2="603.29" y2="44.68" stroke="#e0562a" stroke-width="1" stroke-dasharray="3.3 1.9"/>
<line x1="518.18" y1="101.47" x2="518.18" y2="39.65" stroke="#4a9c4a" stroke-width="1" stroke-dasharray="3.3 1.9"/>
<line x1="534.58" y1="90.53" x2="534.58" y2="39.65" stroke="#4a9c4a" stroke-width="1" stroke-dasharray="3.3 1.9"/>
<line x1="531.48" y1="92.6" x2="531.48" y2="39.65" stroke="#4a9c4a" stroke-width="1" stroke-dasharray="3.3 1.9"/>
<line x1="526.9" y1="95.65" x2="526.9" y2="39.65" stroke="#4a9c4a" stroke-width="1" stroke-dasharray="3.3 1.9"/>
<line x1="523.35" y1="98.02" x2="523.35" y2="39.65" stroke="#4a9c4a" stroke-width="1" stroke-dasharray="3.3 1.9"/>
<line x1="515.96" y1="102.95" x2="515.96" y2="39.65" stroke="#4a9c4a" stroke-width="1" stroke-dasharray="3.3 1.9"/>
<line x1="508.43" y1="107.98" x2="508.43" y2="39.65" stroke="#4a9c4a" stroke-width="1" stroke-dasharray="3.3 1.9"/>
<line x1="490.4" y1="120.01" x2="490.4" y2="39.65" stroke="#4a9c4a" stroke-width="1" stroke-dasharray="3.3 1.9"/>
<line x1="484.19" y1="124.15" x2="484.19" y2="39.65" stroke="#4a9c4a" stroke-width="1" stroke-dasharray="3.3 1.9"/>
<line x1="529.12" y1="94.18" x2="529.12" y2="39.65" stroke="#4a9c4a" stroke-width="1" stroke-dasharray="3.3 1.9"/>
<line x1="521.73" y1="99.11" x2="521.73" y2="39.65" stroke="#4a9c4a" stroke-width="1" stroke-dasharray="3.3 1.9"/>
<line x1="535.47" y1="89.94" x2="535.47" y2="39.65" stroke="#4a9c4a" stroke-width="1" stroke-dasharray="3.3 1.9"/>
<line x1="514.19" y1="104.13" x2="514.19" y2="39.65" stroke="#4a9c4a" stroke-width="1" stroke-dasharray="3.3 1.9"/>
<line x1="506.06" y1="109.56" x2="506.06" y2="39.65" stroke="#4a9c4a" stroke-width="1" stroke-dasharray="3.3 1.9"/>
<line x1="502.67" y1="111.82" x2="502.67" y2="39.65" stroke="#4a9c4a" stroke-width="1" stroke-dasharray="3.3 1.9"/>
<line x1="500.89" y1="113.01" x2="500.89" y2="39.65" stroke="#4a9c4a" stroke-width="1" stroke-dasharray="3.3 1.9"/>
<line x1="519.07" y1="100.88" x2="519.07" y2="39.65" stroke="#4a9c4a" stroke-width="1" stroke-dasharray="3.3 1.9"/>
<line x1="513.01" y1="104.92" x2="513.01" y2="39.65" stroke="#4a9c4a" stroke-width="1" stroke-dasharray="3.3 1.9"/>
<line x1="488.92" y1="120.99" x2="488.92" y2="39.65" stroke="#4a9c4a" stroke-width="1" stroke-dasharray="3.3 1.9"/>
<line x1="494.98" y1="116.95" x2="494.98" y2="39.65" stroke="#4a9c4a" stroke-width="1" stroke-dasharray="3.3 1.9"/>
<line x1="547.59" y1="81.85" x2="547.59" y2="39.65" stroke="#4a9c4a" stroke-width="1" stroke-dasharray="3.3 1.9"/>
<line x1="549.21" y1="80.77" x2="549.21" y2="39.65" stroke="#4a9c4a" stroke-width="1" stroke-dasharray="3.3 1.9"/>
<line x1="548.47" y1="81.26" x2="548.47" y2="39.65" stroke="#4a9c4a" stroke-width="1" stroke-dasharray="3.3 1.9"/>
<line x1="543.3" y1="84.71" x2="543.3" y2="39.65" stroke="#4a9c4a" stroke-width="1" stroke-dasharray="3.3 1.9"/>
<line x1="541.53" y1="85.89" x2="541.53" y2="39.65" stroke="#4a9c4a" stroke-width="1" stroke-dasharray="3.3 1.9"/>
<line x1="540.64" y1="86.48" x2="540.64" y2="39.65" stroke="#4a9c4a" stroke-width="1" stroke-dasharray="3.3 1.9"/>
<line x1="541.53" y1="85.89" x2="541.53" y2="39.65" stroke="#4a9c4a" stroke-width="1" stroke-dasharray="3.3 1.9"/>
<line x1="534.58" y1="90.53" x2="534.58" y2="39.65" stroke="#4a9c4a" stroke-width="1" stroke-dasharray="3.3 1.9"/>
<line x1="533.7" y1="91.12" x2="533.7" y2="39.65" stroke="#4a9c4a" stroke-width="1" stroke-dasharray="3.3 1.9"/>
<line x1="536.36" y1="89.34" x2="536.36" y2="39.65" stroke="#4a9c4a" stroke-width="1" stroke-dasharray="3.3 1.9"/>
<line x1="523.35" y1="98.02" x2="523.35" y2="39.65" stroke="#4a9c4a" stroke-width="1" stroke-dasharray="3.3 1.9"/>
<line x1="525.13" y1="96.84" x2="525.13" y2="39.65" stroke="#4a9c4a" stroke-width="1" stroke-dasharray="3.3 1.9"/>
<line x1="523.35" y1="98.02" x2="523.35" y2="39.65" stroke="#4a9c4a" stroke-width="1" stroke-dasharray="3.3 1.9"/>
<line x1="518.18" y1="101.47" x2="518.18" y2="39.65" stroke="#4a9c4a" stroke-width="1" stroke-dasharray="3.3 1.9"/>
<line x1="515.67" y1="103.15" x2="515.67" y2="39.65" stroke="#4a9c4a" stroke-width="1" stroke-dasharray="3.3 1.9"/>
<line x1="514.78" y1="103.74" x2="514.78" y2="39.65" stroke="#4a9c4a" stroke-width="1" stroke-dasharray="3.3 1.9"/>
<line x1="511.24" y1="106.11" x2="511.24" y2="39.65" stroke="#4a9c4a" stroke-width="1" stroke-dasharray="3.3 1.9"/>
<line x1="506.06" y1="109.56" x2="506.06" y2="39.65" stroke="#4a9c4a" stroke-width="1" stroke-dasharray="3.3 1.9"/>
<line x1="506.06" y1="109.56" x2="506.06" y2="39.65" stroke="#4a9c4a" stroke-width="1" stroke-dasharray="3.3 1.9"/>
<line x1="503.55" y1="111.23" x2="503.55" y2="39.65" stroke="#4a9c4a" stroke-width="1" stroke-dasharray="3.3 1.9"/>
<line x1="506.95" y1="108.97" x2="506.95" y2="39.65" stroke="#4a9c4a" stroke-width="1" stroke-dasharray="3.3 1.9"/>
<line x1="506.06" y1="109.56" x2="506.06" y2="39.65" stroke="#4a9c4a" stroke-width="1" stroke-dasharray="3.3 1.9"/>
<line x1="504.44" y1="110.64" x2="504.44" y2="39.65" stroke="#4a9c4a" stroke-width="1" stroke-dasharray="3.3 1.9"/>
<line x1="502.67" y1="111.82" x2="502.67" y2="39.65" stroke="#4a9c4a" stroke-width="1" stroke-dasharray="3.3 1.9"/>
<line x1="497.49" y1="115.28" x2="497.49" y2="39.65" stroke="#4a9c4a" stroke-width="1" stroke-dasharray="3.3 1.9"/>
<line x1="496.61" y1="115.87" x2="496.61" y2="39.65" stroke="#4a9c4a" stroke-width="1" stroke-dasharray="3.3 1.9"/>
<line x1="495.72" y1="116.46" x2="495.72" y2="39.65" stroke="#4a9c4a" stroke-width="1" stroke-dasharray="3.3 1.9"/>
<line x1="499.86" y1="113.7" x2="499.86" y2="39.65" stroke="#4a9c4a" stroke-width="1" stroke-dasharray="3.3 1.9"/>
<line x1="493.65" y1="117.84" x2="493.65" y2="39.65" stroke="#4a9c4a" stroke-width="1" stroke-dasharray="3.3 1.9"/>
<line x1="494.98" y1="116.95" x2="494.98" y2="39.65" stroke="#4a9c4a" stroke-width="1" stroke-dasharray="3.3 1.9"/>
<line x1="488.92" y1="120.99" x2="488.92" y2="39.65" stroke="#4a9c4a" stroke-width="1" stroke-dasharray="3.3 1.9"/>
<line x1="483.75" y1="124.45" x2="483.75" y2="39.65" stroke="#4a9c4a" stroke-width="1" stroke-dasharray="3.3 1.9"/>
<line x1="481.09" y1="126.22" x2="481.09" y2="39.65" stroke="#4a9c4a" stroke-width="1" stroke-dasharray="3.3 1.9"/>
<line x1="483.9" y1="124.35" x2="483.9" y2="39.65" stroke="#4a9c4a" stroke-width="1" stroke-dasharray="3.3 1.9"/>
<line x1="475.03" y1="130.26" x2="475.03" y2="39.65" stroke="#4a9c4a" stroke-width="1" stroke-dasharray="3.3 1.9"/>
<line x1="536.8" y1="89.05" x2="536.8" y2="39.65" stroke="#4a9c4a" stroke-width="1" stroke-dasharray="3.3 1.9"/>
<line x1="529.26" y1="94.08" x2="529.26" y2="39.65" stroke="#4a9c4a" stroke-width="1" stroke-dasharray="3.3 1.9"/>
<line x1="523.94" y1="97.63" x2="523.94" y2="39.65" stroke="#4a9c4a" stroke-width="1" stroke-dasharray="3.3 1.9"/>
<line x1="523.94" y1="97.63" x2="523.94" y2="39.65" stroke="#4a9c4a" stroke-width="1" stroke-dasharray="3.3 1.9"/>
<line x1="493.8" y1="117.74" x2="493.8" y2="39.65" stroke="#4a9c4a" stroke-width="1" stroke-dasharray="3.3 1.9"/>
<line x1="491.14" y1="119.52" x2="491.14" y2="39.65" stroke="#4a9c4a" stroke-width="1" stroke-dasharray="3.3 1.9"/>
<line x1="491.14" y1="119.52" x2="491.14" y2="39.65" stroke="#4a9c4a" stroke-width="1" stroke-dasharray="3.3 1.9"/>
<line x1="489.96" y1="120.3" x2="489.96" y2="39.65" stroke="#4a9c4a" stroke-width="1" stroke-dasharray="3.3 1.9"/>
<line x1="488.33" y1="121.39" x2="488.33" y2="39.65" stroke="#4a9c4a" stroke-width="1" stroke-dasharray="3.3 1.9"/>
<line x1="479.32" y1="127.4" x2="479.32" y2="39.65" stroke="#4a9c4a" stroke-width="1" stroke-dasharray="3.3 1.9"/>
<line x1="474.44" y1="130.66" x2="474.44" y2="39.65" stroke="#4a9c4a" stroke-width="1" stroke-dasharray="3.3 1.9"/>
<line x1="476.51" y1="129.28" x2="476.51" y2="39.65" stroke="#4a9c4a" stroke-width="1" stroke-dasharray="3.3 1.9"/>
<line x1="472.52" y1="131.94" x2="472.52" y2="39.65" stroke="#4a9c4a" stroke-width="1" stroke-dasharray="3.3 1.9"/>
<line x1="468.53" y1="134.6" x2="468.53" y2="39.65" stroke="#4a9c4a" stroke-width="1" stroke-dasharray="3.3 1.9"/>
<line x1="467.94" y1="135" x2="467.94" y2="39.65" stroke="#4a9c4a" stroke-width="1" stroke-dasharray="3.3 1.9"/>
<line x1="469.42" y1="134.01" x2="469.42" y2="39.65" stroke="#4a9c4a" stroke-width="1" stroke-dasharray="3.3 1.9"/>
<line x1="462.03" y1="138.94" x2="462.03" y2="39.65" stroke="#4a9c4a" stroke-width="1" stroke-dasharray="3.3 1.9"/>
<line x1="446.51" y1="149.29" x2="446.51" y2="39.65" stroke="#4a9c4a" stroke-width="1" stroke-dasharray="3.3 1.9"/>
<line x1="445.48" y1="149.98" x2="445.48" y2="39.65" stroke="#4a9c4a" stroke-width="1" stroke-dasharray="3.3 1.9"/>
<line x1="436.61" y1="155.9" x2="436.61" y2="39.65" stroke="#4a9c4a" stroke-width="1" stroke-dasharray="3.3 1.9"/>
<line x1="427.01" y1="162.31" x2="427.01" y2="39.65" stroke="#4a9c4a" stroke-width="1" stroke-dasharray="3.3 1.9"/>
<line x1="431.88" y1="159.05" x2="431.88" y2="39.65" stroke="#4a9c4a" stroke-width="1" stroke-dasharray="3.3 1.9"/>
<line x1="470.75" y1="133.12" x2="470.75" y2="39.65" stroke="#4a9c4a" stroke-width="1" stroke-dasharray="3.3 1.9"/>
<line x1="465.87" y1="136.38" x2="465.87" y2="39.65" stroke="#4a9c4a" stroke-width="1" stroke-dasharray="3.3 1.9"/>
<line x1="466.61" y1="135.88" x2="466.61" y2="39.65" stroke="#4a9c4a" stroke-width="1" stroke-dasharray="3.3 1.9"/>
<line x1="462.03" y1="138.94" x2="462.03" y2="39.65" stroke="#4a9c4a" stroke-width="1" stroke-dasharray="3.3 1.9"/>
<line x1="466.76" y1="135.78" x2="466.76" y2="39.65" stroke="#4a9c4a" stroke-width="1" stroke-dasharray="3.3 1.9"/>
<line x1="470.3" y1="133.42" x2="470.3" y2="39.65" stroke="#4a9c4a" stroke-width="1" stroke-dasharray="3.3 1.9"/>
<line x1="453.02" y1="144.95" x2="453.02" y2="39.65" stroke="#4a9c4a" stroke-width="1" stroke-dasharray="3.3 1.9"/>
<line x1="450.95" y1="146.33" x2="450.95" y2="39.65" stroke="#4a9c4a" stroke-width="1" stroke-dasharray="3.3 1.9"/>
<line x1="453.02" y1="144.95" x2="453.02" y2="39.65" stroke="#4a9c4a" stroke-width="1" stroke-dasharray="3.3 1.9"/>
<line x1="453.02" y1="144.95" x2="453.02" y2="39.65" stroke="#4a9c4a" stroke-width="1" stroke-dasharray="3.3 1.9"/>
<line x1="442.97" y1="151.66" x2="442.97" y2="39.65" stroke="#4a9c4a" stroke-width="1" stroke-dasharray="3.3 1.9"/>
<line x1="437.65" y1="155.21" x2="437.65" y2="39.65" stroke="#4a9c4a" stroke-width="1" stroke-dasharray="3.3 1.9"/>
<line x1="445.33" y1="150.08" x2="445.33" y2="39.65" stroke="#4a9c4a" stroke-width="1" stroke-dasharray="3.3 1.9"/>
<line x1="464.69" y1="137.16" x2="464.69" y2="39.65" stroke="#4a9c4a" stroke-width="1" stroke-dasharray="3.3 1.9"/>
<line x1="479.32" y1="127.4" x2="479.32" y2="39.65" stroke="#4a9c4a" stroke-width="1" stroke-dasharray="3.3 1.9"/>
<line x1="484.79" y1="123.76" x2="484.79" y2="39.65" stroke="#4a9c4a" stroke-width="1" stroke-dasharray="3.3 1.9"/>
<line x1="455.08" y1="143.57" x2="455.08" y2="39.65" stroke="#4a9c4a" stroke-width="1" stroke-dasharray="3.3 1.9"/>
<line x1="440.46" y1="153.34" x2="440.46" y2="39.65" stroke="#4a9c4a" stroke-width="1" stroke-dasharray="3.3 1.9"/>
<line x1="517.15" y1="102.16" x2="517.15" y2="39.65" stroke="#4a9c4a" stroke-width="1" stroke-dasharray="3.3 1.9"/>
<line x1="519.81" y1="100.39" x2="519.81" y2="39.65" stroke="#4a9c4a" stroke-width="1" stroke-dasharray="3.3 1.9"/>
<line x1="510.5" y1="106.6" x2="510.5" y2="39.65" stroke="#4a9c4a" stroke-width="1" stroke-dasharray="3.3 1.9"/>
<line x1="510.5" y1="106.6" x2="510.5" y2="39.65" stroke="#4a9c4a" stroke-width="1" stroke-dasharray="3.3 1.9"/>
<line x1="514.93" y1="103.64" x2="514.93" y2="39.65" stroke="#4a9c4a" stroke-width="1" stroke-dasharray="3.3 1.9"/>
<line x1="550.25" y1="80.08" x2="550.25" y2="39.65" stroke="#4a9c4a" stroke-width="1" stroke-dasharray="3.3 1.9"/>
<line x1="454.94" y1="143.67" x2="454.94" y2="39.65" stroke="#4a9c4a" stroke-width="1" stroke-dasharray="3.3 1.9"/>
<line x1="475.33" y1="130.07" x2="475.33" y2="39.65" stroke="#4a9c4a" stroke-width="1" stroke-dasharray="3.3 1.9"/>
<line x1="441.34" y1="152.74" x2="441.34" y2="39.65" stroke="#4a9c4a" stroke-width="1" stroke-dasharray="3.3 1.9"/>
<line x1="437.8" y1="155.11" x2="437.8" y2="39.65" stroke="#4a9c4a" stroke-width="1" stroke-dasharray="3.3 1.9"/>
<line x1="437.8" y1="155.11" x2="437.8" y2="39.65" stroke="#4a9c4a" stroke-width="1" stroke-dasharray="3.3 1.9"/>
<line x1="551.72" y1="79.09" x2="551.72" y2="39.65" stroke="#4a9c4a" stroke-width="1" stroke-dasharray="3.3 1.9"/>
<line x1="561.77" y1="72.38" x2="561.77" y2="39.65" stroke="#4a9c4a" stroke-width="1" stroke-dasharray="3.3 1.9"/>
<line x1="607.73" y1="41.72" x2="607.73" y2="39.65" stroke="#4a9c4a" stroke-width="1" stroke-dasharray="3.3 1.9"/>
<line x1="607.73" y1="60.13" x2="607.73" y2="41.72" stroke="#e0562a" stroke-width="1" stroke-dasharray="3.3 1.9"/>
<line x1="610.39" y1="39.95" x2="610.39" y2="39.65" stroke="#4a9c4a" stroke-width="1" stroke-dasharray="3.3 1.9"/>
<line x1="610.39" y1="57.86" x2="610.39" y2="39.95" stroke="#e0562a" stroke-width="1" stroke-dasharray="3.3 1.9"/>
<line x1="610.83" y1="56.6" x2="610.83" y2="39.65" stroke="#e0562a" stroke-width="1" stroke-dasharray="3.3 1.9"/>
<line x1="610.83" y1="55.97" x2="610.83" y2="39.65" stroke="#e0562a" stroke-width="1" stroke-dasharray="3.3 1.9"/>
<line x1="586.6" y1="55.82" x2="586.6" y2="39.65" stroke="#4a9c4a" stroke-width="1" stroke-dasharray="3.3 1.9"/>
<line x1="567.24" y1="68.74" x2="567.24" y2="39.65" stroke="#4a9c4a" stroke-width="1" stroke-dasharray="3.3 1.9"/>
<line x1="570.49" y1="66.57" x2="570.49" y2="39.65" stroke="#4a9c4a" stroke-width="1" stroke-dasharray="3.3 1.9"/>
<line x1="537.24" y1="88.75" x2="537.24" y2="39.65" stroke="#4a9c4a" stroke-width="1" stroke-dasharray="3.3 1.9"/>
<circle cx="427.01" cy="162.31" r="2.15" fill="#c8c8c8" stroke="#2a2a2a" stroke-width="0.9"/>
<circle cx="431.88" cy="159.05" r="2.15" fill="#c8c8c8" stroke="#2a2a2a" stroke-width="0.9"/>
<circle cx="436.61" cy="155.9" r="2.15" fill="#c8c8c8" stroke="#2a2a2a" stroke-width="0.9"/>
<circle cx="437.65" cy="155.21" r="2.15" fill="#c8c8c8" stroke="#2a2a2a" stroke-width="0.9"/>
<circle cx="437.8" cy="155.11" r="2.15" fill="#c8c8c8" stroke="#2a2a2a" stroke-width="0.9"/>
<circle cx="437.8" cy="155.11" r="2.15" fill="#c8c8c8" stroke="#2a2a2a" stroke-width="0.9"/>
<circle cx="440.46" cy="153.34" r="2.15" fill="#c8c8c8" stroke="#2a2a2a" stroke-width="0.9"/>
<circle cx="441.34" cy="152.74" r="2.15" fill="#c8c8c8" stroke="#2a2a2a" stroke-width="0.9"/>
<circle cx="442.97" cy="151.66" r="2.15" fill="#c8c8c8" stroke="#2a2a2a" stroke-width="0.9"/>
<circle cx="445.33" cy="150.08" r="2.15" fill="#c8c8c8" stroke="#2a2a2a" stroke-width="0.9"/>
<circle cx="445.48" cy="149.98" r="2.15" fill="#c8c8c8" stroke="#2a2a2a" stroke-width="0.9"/>
<circle cx="446.51" cy="149.29" r="2.15" fill="#c8c8c8" stroke="#2a2a2a" stroke-width="0.9"/>
<circle cx="450.95" cy="146.33" r="2.15" fill="#c8c8c8" stroke="#2a2a2a" stroke-width="0.9"/>
<circle cx="453.02" cy="144.95" r="2.15" fill="#c8c8c8" stroke="#2a2a2a" stroke-width="0.9"/>
<circle cx="453.02" cy="144.95" r="2.15" fill="#c8c8c8" stroke="#2a2a2a" stroke-width="0.9"/>
<circle cx="453.02" cy="144.95" r="2.15" fill="#c8c8c8" stroke="#2a2a2a" stroke-width="0.9"/>
<circle cx="454.94" cy="143.67" r="2.15" fill="#c8c8c8" stroke="#2a2a2a" stroke-width="0.9"/>
<circle cx="455.08" cy="143.57" r="2.15" fill="#c8c8c8" stroke="#2a2a2a" stroke-width="0.9"/>
<circle cx="462.03" cy="138.94" r="2.15" fill="#c8c8c8" stroke="#2a2a2a" stroke-width="0.9"/>
<circle cx="462.03" cy="138.94" r="2.15" fill="#c8c8c8" stroke="#2a2a2a" stroke-width="0.9"/>
<circle cx="464.69" cy="137.16" r="2.15" fill="#c8c8c8" stroke="#2a2a2a" stroke-width="0.9"/>
<circle cx="465.87" cy="136.38" r="2.15" fill="#c8c8c8" stroke="#2a2a2a" stroke-width="0.9"/>
<circle cx="466.61" cy="135.88" r="2.15" fill="#c8c8c8" stroke="#2a2a2a" stroke-width="0.9"/>
<circle cx="466.76" cy="135.78" r="2.15" fill="#c8c8c8" stroke="#2a2a2a" stroke-width="0.9"/>
<circle cx="467.94" cy="135" r="2.15" fill="#c8c8c8" stroke="#2a2a2a" stroke-width="0.9"/>
<circle cx="468.53" cy="134.6" r="2.15" fill="#c8c8c8" stroke="#2a2a2a" stroke-width="0.9"/>
<circle cx="469.42" cy="134.01" r="2.15" fill="#c8c8c8" stroke="#2a2a2a" stroke-width="0.9"/>
<circle cx="470.3" cy="133.42" r="2.15" fill="#c8c8c8" stroke="#2a2a2a" stroke-width="0.9"/>
<circle cx="470.75" cy="133.12" r="2.15" fill="#c8c8c8" stroke="#2a2a2a" stroke-width="0.9"/>
<circle cx="472.52" cy="131.94" r="2.15" fill="#c8c8c8" stroke="#2a2a2a" stroke-width="0.9"/>
<circle cx="474.44" cy="130.66" r="2.15" fill="#c8c8c8" stroke="#2a2a2a" stroke-width="0.9"/>
<circle cx="475.03" cy="130.26" r="2.15" fill="#c8c8c8" stroke="#2a2a2a" stroke-width="0.9"/>
<circle cx="475.33" cy="130.07" r="2.15" fill="#c8c8c8" stroke="#2a2a2a" stroke-width="0.9"/>
<circle cx="476.51" cy="129.28" r="2.15" fill="#c8c8c8" stroke="#2a2a2a" stroke-width="0.9"/>
<circle cx="479.32" cy="127.4" r="2.15" fill="#c8c8c8" stroke="#2a2a2a" stroke-width="0.9"/>
<circle cx="479.32" cy="127.4" r="2.15" fill="#c8c8c8" stroke="#2a2a2a" stroke-width="0.9"/>
<circle cx="481.09" cy="126.22" r="2.15" fill="#c8c8c8" stroke="#2a2a2a" stroke-width="0.9"/>
<circle cx="483.75" cy="124.45" r="2.15" fill="#c8c8c8" stroke="#2a2a2a" stroke-width="0.9"/>
<circle cx="483.9" cy="124.35" r="2.15" fill="#c8c8c8" stroke="#2a2a2a" stroke-width="0.9"/>
<circle cx="484.19" cy="124.15" r="2.15" fill="#c8c8c8" stroke="#2a2a2a" stroke-width="0.9"/>
<circle cx="484.79" cy="123.76" r="2.15" fill="#c8c8c8" stroke="#2a2a2a" stroke-width="0.9"/>
<circle cx="488.33" cy="121.39" r="2.15" fill="#c8c8c8" stroke="#2a2a2a" stroke-width="0.9"/>
<circle cx="488.92" cy="120.99" r="2.15" fill="#c8c8c8" stroke="#2a2a2a" stroke-width="0.9"/>
<circle cx="488.92" cy="120.99" r="2.15" fill="#c8c8c8" stroke="#2a2a2a" stroke-width="0.9"/>
<circle cx="489.96" cy="120.3" r="2.15" fill="#c8c8c8" stroke="#2a2a2a" stroke-width="0.9"/>
<circle cx="490.4" cy="120.01" r="2.15" fill="#c8c8c8" stroke="#2a2a2a" stroke-width="0.9"/>
<circle cx="491.14" cy="119.52" r="2.15" fill="#c8c8c8" stroke="#2a2a2a" stroke-width="0.9"/>
<circle cx="491.14" cy="119.52" r="2.15" fill="#c8c8c8" stroke="#2a2a2a" stroke-width="0.9"/>
<circle cx="493.65" cy="117.84" r="2.15" fill="#c8c8c8" stroke="#2a2a2a" stroke-width="0.9"/>
<circle cx="493.8" cy="117.74" r="2.15" fill="#c8c8c8" stroke="#2a2a2a" stroke-width="0.9"/>
<circle cx="494.98" cy="116.95" r="2.15" fill="#c8c8c8" stroke="#2a2a2a" stroke-width="0.9"/>
<circle cx="494.98" cy="116.95" r="2.15" fill="#c8c8c8" stroke="#2a2a2a" stroke-width="0.9"/>
<circle cx="495.72" cy="116.46" r="2.15" fill="#c8c8c8" stroke="#2a2a2a" stroke-width="0.9"/>
<circle cx="496.61" cy="115.87" r="2.15" fill="#c8c8c8" stroke="#2a2a2a" stroke-width="0.9"/>
<circle cx="497.49" cy="115.28" r="2.15" fill="#c8c8c8" stroke="#2a2a2a" stroke-width="0.9"/>
<circle cx="499.86" cy="113.7" r="2.15" fill="#c8c8c8" stroke="#2a2a2a" stroke-width="0.9"/>
<circle cx="500.89" cy="113.01" r="2.15" fill="#c8c8c8" stroke="#2a2a2a" stroke-width="0.9"/>
<circle cx="502.67" cy="111.82" r="2.15" fill="#c8c8c8" stroke="#2a2a2a" stroke-width="0.9"/>
<circle cx="502.67" cy="111.82" r="2.15" fill="#c8c8c8" stroke="#2a2a2a" stroke-width="0.9"/>
<circle cx="503.55" cy="111.23" r="2.15" fill="#c8c8c8" stroke="#2a2a2a" stroke-width="0.9"/>
<circle cx="504.44" cy="110.64" r="2.15" fill="#c8c8c8" stroke="#2a2a2a" stroke-width="0.9"/>
<circle cx="506.06" cy="109.56" r="2.15" fill="#c8c8c8" stroke="#2a2a2a" stroke-width="0.9"/>
<circle cx="506.06" cy="109.56" r="2.15" fill="#c8c8c8" stroke="#2a2a2a" stroke-width="0.9"/>
<circle cx="506.06" cy="109.56" r="2.15" fill="#c8c8c8" stroke="#2a2a2a" stroke-width="0.9"/>
<circle cx="506.06" cy="109.56" r="2.15" fill="#c8c8c8" stroke="#2a2a2a" stroke-width="0.9"/>
<circle cx="506.95" cy="108.97" r="2.15" fill="#c8c8c8" stroke="#2a2a2a" stroke-width="0.9"/>
<circle cx="508.43" cy="107.98" r="2.15" fill="#c8c8c8" stroke="#2a2a2a" stroke-width="0.9"/>
<circle cx="510.5" cy="106.6" r="2.15" fill="#c8c8c8" stroke="#2a2a2a" stroke-width="0.9"/>
<circle cx="510.5" cy="106.6" r="2.15" fill="#c8c8c8" stroke="#2a2a2a" stroke-width="0.9"/>
<circle cx="511.24" cy="106.11" r="2.15" fill="#c8c8c8" stroke="#2a2a2a" stroke-width="0.9"/>
<circle cx="513.01" cy="104.92" r="2.15" fill="#c8c8c8" stroke="#2a2a2a" stroke-width="0.9"/>
<circle cx="514.19" cy="104.13" r="2.15" fill="#c8c8c8" stroke="#2a2a2a" stroke-width="0.9"/>
<circle cx="514.78" cy="103.74" r="2.15" fill="#c8c8c8" stroke="#2a2a2a" stroke-width="0.9"/>
<circle cx="514.93" cy="103.64" r="2.15" fill="#c8c8c8" stroke="#2a2a2a" stroke-width="0.9"/>
<circle cx="515.67" cy="103.15" r="2.15" fill="#c8c8c8" stroke="#2a2a2a" stroke-width="0.9"/>
<circle cx="515.96" cy="102.95" r="2.15" fill="#c8c8c8" stroke="#2a2a2a" stroke-width="0.9"/>
<circle cx="517.15" cy="102.16" r="2.15" fill="#c8c8c8" stroke="#2a2a2a" stroke-width="0.9"/>
<circle cx="518.18" cy="101.47" r="2.15" fill="#c8c8c8" stroke="#2a2a2a" stroke-width="0.9"/>
<circle cx="518.18" cy="101.47" r="2.15" fill="#c8c8c8" stroke="#2a2a2a" stroke-width="0.9"/>
<circle cx="519.07" cy="100.88" r="2.15" fill="#c8c8c8" stroke="#2a2a2a" stroke-width="0.9"/>
<circle cx="519.81" cy="100.39" r="2.15" fill="#c8c8c8" stroke="#2a2a2a" stroke-width="0.9"/>
<circle cx="521.14" cy="99.5" r="2.15" fill="#c8c8c8" stroke="#2a2a2a" stroke-width="0.9"/>
<circle cx="521.73" cy="99.11" r="2.15" fill="#c8c8c8" stroke="#2a2a2a" stroke-width="0.9"/>
<circle cx="523.35" cy="98.02" r="2.15" fill="#c8c8c8" stroke="#2a2a2a" stroke-width="0.9"/>
<circle cx="523.35" cy="98.02" r="2.15" fill="#c8c8c8" stroke="#2a2a2a" stroke-width="0.9"/>
<circle cx="523.35" cy="98.02" r="2.15" fill="#c8c8c8" stroke="#2a2a2a" stroke-width="0.9"/>
<circle cx="523.94" cy="97.63" r="2.15" fill="#c8c8c8" stroke="#2a2a2a" stroke-width="0.9"/>
<circle cx="523.94" cy="97.63" r="2.15" fill="#c8c8c8" stroke="#2a2a2a" stroke-width="0.9"/>
<circle cx="525.13" cy="96.84" r="2.15" fill="#c8c8c8" stroke="#2a2a2a" stroke-width="0.9"/>
<circle cx="526.9" cy="95.65" r="2.15" fill="#c8c8c8" stroke="#2a2a2a" stroke-width="0.9"/>
<circle cx="527.64" cy="95.16" r="2.15" fill="#c8c8c8" stroke="#2a2a2a" stroke-width="0.9"/>
<circle cx="529.12" cy="94.18" r="2.15" fill="#c8c8c8" stroke="#2a2a2a" stroke-width="0.9"/>
<circle cx="529.26" cy="94.08" r="2.15" fill="#c8c8c8" stroke="#2a2a2a" stroke-width="0.9"/>
<circle cx="531.48" cy="92.6" r="2.15" fill="#c8c8c8" stroke="#2a2a2a" stroke-width="0.9"/>
<circle cx="532.96" cy="91.61" r="2.15" fill="#c8c8c8" stroke="#2a2a2a" stroke-width="0.9"/>
<circle cx="533.7" cy="91.12" r="2.15" fill="#c8c8c8" stroke="#2a2a2a" stroke-width="0.9"/>
<circle cx="534.14" cy="90.82" r="2.15" fill="#c8c8c8" stroke="#2a2a2a" stroke-width="0.9"/>
<circle cx="534.58" cy="90.53" r="2.15" fill="#c8c8c8" stroke="#2a2a2a" stroke-width="0.9"/>
<circle cx="534.58" cy="90.53" r="2.15" fill="#c8c8c8" stroke="#2a2a2a" stroke-width="0.9"/>
<circle cx="534.58" cy="90.53" r="2.15" fill="#c8c8c8" stroke="#2a2a2a" stroke-width="0.9"/>
<circle cx="535.47" cy="89.94" r="2.15" fill="#c8c8c8" stroke="#2a2a2a" stroke-width="0.9"/>
<circle cx="536.36" cy="89.34" r="2.15" fill="#c8c8c8" stroke="#2a2a2a" stroke-width="0.9"/>
<circle cx="536.8" cy="89.05" r="2.15" fill="#c8c8c8" stroke="#2a2a2a" stroke-width="0.9"/>
<circle cx="537.24" cy="88.75" r="2.15" fill="#c8c8c8" stroke="#2a2a2a" stroke-width="0.9"/>
<circle cx="540.64" cy="86.48" r="2.15" fill="#c8c8c8" stroke="#2a2a2a" stroke-width="0.9"/>
<circle cx="541.23" cy="86.09" r="2.15" fill="#c8c8c8" stroke="#2a2a2a" stroke-width="0.9"/>
<circle cx="541.53" cy="85.89" r="2.15" fill="#c8c8c8" stroke="#2a2a2a" stroke-width="0.9"/>
<circle cx="541.53" cy="85.89" r="2.15" fill="#c8c8c8" stroke="#2a2a2a" stroke-width="0.9"/>
<circle cx="543.3" cy="84.71" r="2.15" fill="#c8c8c8" stroke="#2a2a2a" stroke-width="0.9"/>
<circle cx="547.59" cy="81.85" r="2.15" fill="#c8c8c8" stroke="#2a2a2a" stroke-width="0.9"/>
<circle cx="548.03" cy="81.55" r="2.15" fill="#c8c8c8" stroke="#2a2a2a" stroke-width="0.9"/>
<circle cx="548.47" cy="81.26" r="2.15" fill="#c8c8c8" stroke="#2a2a2a" stroke-width="0.9"/>
<circle cx="549.21" cy="80.77" r="2.15" fill="#c8c8c8" stroke="#2a2a2a" stroke-width="0.9"/>
<circle cx="550.25" cy="80.08" r="2.15" fill="#c8c8c8" stroke="#2a2a2a" stroke-width="0.9"/>
<circle cx="550.84" cy="79.68" r="2.15" fill="#c8c8c8" stroke="#2a2a2a" stroke-width="0.9"/>
<circle cx="551.72" cy="79.09" r="2.15" fill="#c8c8c8" stroke="#2a2a2a" stroke-width="0.9"/>
<circle cx="551.87" cy="78.99" r="2.15" fill="#c8c8c8" stroke="#2a2a2a" stroke-width="0.9"/>
<circle cx="555.42" cy="76.62" r="2.15" fill="#c8c8c8" stroke="#2a2a2a" stroke-width="0.9"/>
<circle cx="556.16" cy="76.13" r="2.15" fill="#c8c8c8" stroke="#2a2a2a" stroke-width="0.9"/>
<circle cx="556.6" cy="75.84" r="2.15" fill="#c8c8c8" stroke="#2a2a2a" stroke-width="0.9"/>
<circle cx="558.08" cy="74.85" r="2.15" fill="#c8c8c8" stroke="#2a2a2a" stroke-width="0.9"/>
<circle cx="558.23" cy="74.75" r="2.15" fill="#c8c8c8" stroke="#2a2a2a" stroke-width="0.9"/>
<circle cx="559.85" cy="73.67" r="2.15" fill="#c8c8c8" stroke="#2a2a2a" stroke-width="0.9"/>
<circle cx="561.77" cy="72.38" r="2.15" fill="#c8c8c8" stroke="#2a2a2a" stroke-width="0.9"/>
<circle cx="567.24" cy="68.74" r="2.15" fill="#c8c8c8" stroke="#2a2a2a" stroke-width="0.9"/>
<circle cx="569.9" cy="66.96" r="2.15" fill="#c8c8c8" stroke="#2a2a2a" stroke-width="0.9"/>
<circle cx="570.49" cy="66.57" r="2.15" fill="#c8c8c8" stroke="#2a2a2a" stroke-width="0.9"/>
<circle cx="575.51" cy="63.22" r="2.15" fill="#c8c8c8" stroke="#2a2a2a" stroke-width="0.9"/>
<circle cx="582.46" cy="58.58" r="2.15" fill="#c8c8c8" stroke="#2a2a2a" stroke-width="0.9"/>
<circle cx="586.6" cy="60.11" r="2.15" fill="#c8c8c8" stroke="#2a2a2a" stroke-width="0.9"/>
<circle cx="586.6" cy="55.82" r="2.15" fill="#c8c8c8" stroke="#2a2a2a" stroke-width="0.9"/>
<circle cx="593.1" cy="60.38" r="2.15" fill="#c8c8c8" stroke="#2a2a2a" stroke-width="0.9"/>
<circle cx="598.57" cy="58.88" r="2.15" fill="#c8c8c8" stroke="#2a2a2a" stroke-width="0.9"/>
<circle cx="602.85" cy="59.82" r="2.15" fill="#c8c8c8" stroke="#2a2a2a" stroke-width="0.9"/>
<circle cx="603.29" cy="57.92" r="2.15" fill="#c8c8c8" stroke="#2a2a2a" stroke-width="0.9"/>
<circle cx="607.73" cy="60.13" r="2.15" fill="#c8c8c8" stroke="#2a2a2a" stroke-width="0.9"/>
<circle cx="610.39" cy="57.86" r="2.15" fill="#c8c8c8" stroke="#2a2a2a" stroke-width="0.9"/>
<circle cx="610.83" cy="56.6" r="2.15" fill="#c8c8c8" stroke="#2a2a2a" stroke-width="0.9"/>
<circle cx="610.83" cy="55.97" r="2.15" fill="#c8c8c8" stroke="#2a2a2a" stroke-width="0.9"/>
<line x1="394.5" y1="6.5" x2="394.5" y2="184" stroke="#666" stroke-width="1.1"/>
<line x1="394.5" y1="184" x2="660.5" y2="184" stroke="#555" stroke-width="1.1"/>
<line x1="394.5" y1="6.5" x2="660.5" y2="6.5" stroke="#555" stroke-width="1.1"/>
<line x1="660.5" y1="6.5" x2="660.5" y2="184" stroke="#666" stroke-width="1.1"/>
<text x="415.4" y="34.3" font-size="15" fill="#111">b</text><text x="425.3" y="34.3" font-size="15" fill="#111">)</text>
<line x1="392.1" y1="388.6" x2="398.9" y2="388.6" stroke="#555" stroke-width="1"/>
<text transform="translate(385.3,392.4) scale(0.92,1)" text-anchor="end" font-size="8.8" fill="#383838" stroke="#383838" stroke-width="0.2">0</text>
<line x1="392.1" y1="358.83" x2="398.9" y2="358.83" stroke="#555" stroke-width="1"/>
<text transform="translate(385.3,362.63) scale(0.92,1)" text-anchor="end" font-size="8.8" fill="#383838" stroke="#383838" stroke-width="0.2">1000</text>
<line x1="392.1" y1="329.06" x2="398.9" y2="329.06" stroke="#555" stroke-width="1"/>
<text transform="translate(385.3,332.86) scale(0.92,1)" text-anchor="end" font-size="8.8" fill="#383838" stroke="#383838" stroke-width="0.2">2000</text>
<line x1="392.1" y1="299.29" x2="398.9" y2="299.29" stroke="#555" stroke-width="1"/>
<text transform="translate(385.3,303.09) scale(0.92,1)" text-anchor="end" font-size="8.8" fill="#383838" stroke="#383838" stroke-width="0.2">3000</text>
<line x1="392.1" y1="269.52" x2="398.9" y2="269.52" stroke="#555" stroke-width="1"/>
<text transform="translate(385.3,273.32) scale(0.92,1)" text-anchor="end" font-size="8.8" fill="#383838" stroke="#383838" stroke-width="0.2">4000</text>
<line x1="392.1" y1="239.75" x2="398.9" y2="239.75" stroke="#555" stroke-width="1"/>
<text transform="translate(385.3,243.55) scale(0.92,1)" text-anchor="end" font-size="8.8" fill="#383838" stroke="#383838" stroke-width="0.2">5000</text>
<line x1="392.1" y1="209.98" x2="398.9" y2="209.98" stroke="#555" stroke-width="1"/>
<text transform="translate(385.3,213.78) scale(0.92,1)" text-anchor="end" font-size="8.8" fill="#383838" stroke="#383838" stroke-width="0.2">6000</text>
<line x1="398.9" y1="388.6" x2="398.9" y2="395.1" stroke="#555" stroke-width="1"/>
<line x1="443.75" y1="388.6" x2="443.75" y2="395.1" stroke="#555" stroke-width="1"/>
<line x1="488.6" y1="388.6" x2="488.6" y2="395.1" stroke="#555" stroke-width="1"/>
<line x1="533.45" y1="388.6" x2="533.45" y2="395.1" stroke="#555" stroke-width="1"/>
<line x1="578.3" y1="388.6" x2="578.3" y2="395.1" stroke="#555" stroke-width="1"/>
<line x1="623.15" y1="388.6" x2="623.15" y2="395.1" stroke="#555" stroke-width="1"/>
<line x1="668" y1="388.6" x2="668" y2="395.1" stroke="#555" stroke-width="1"/>
<text transform="translate(359.6,299.2) rotate(-90)" text-anchor="middle" font-size="10.55" fill="#333">Predicted yield (kg/ha)</text>
<line x1="398.9" y1="314.25" x2="668" y2="314.25" stroke="#b48a8a" stroke-width="1"/>
<line x1="398.9" y1="388.6" x2="668" y2="209.8" stroke="#333" stroke-width="0.9"/>
<line x1="398.9" y1="388.6" x2="533.59" y2="209.8" stroke="#444" stroke-width="0.9" stroke-dasharray="3.5 3"/>
<line x1="497.58" y1="323.1" x2="497.58" y2="314.25" stroke="#4a9c4a" stroke-width="1" stroke-dasharray="3.3 1.9"/>
<line x1="497.58" y1="333.6" x2="497.58" y2="323.1" stroke="#e0562a" stroke-width="1" stroke-dasharray="3.3 1.9"/>
<line x1="491.65" y1="327.03" x2="491.65" y2="314.25" stroke="#4a9c4a" stroke-width="1" stroke-dasharray="3.3 1.9"/>
<line x1="491.65" y1="332.93" x2="491.65" y2="327.03" stroke="#e0562a" stroke-width="1" stroke-dasharray="3.3 1.9"/>
<line x1="486.76" y1="330.28" x2="486.76" y2="314.25" stroke="#4a9c4a" stroke-width="1" stroke-dasharray="3.3 1.9"/>
<line x1="486.76" y1="334.38" x2="486.76" y2="330.28" stroke="#e0562a" stroke-width="1" stroke-dasharray="3.3 1.9"/>
<line x1="485.58" y1="331.07" x2="485.58" y2="314.25" stroke="#4a9c4a" stroke-width="1" stroke-dasharray="3.3 1.9"/>
<line x1="485.58" y1="331.07" x2="485.58" y2="314.25" stroke="#4a9c4a" stroke-width="1" stroke-dasharray="3.3 1.9"/>
<line x1="482.47" y1="333.13" x2="482.47" y2="314.25" stroke="#4a9c4a" stroke-width="1" stroke-dasharray="3.3 1.9"/>
<line x1="502.76" y1="319.66" x2="502.76" y2="314.25" stroke="#4a9c4a" stroke-width="1" stroke-dasharray="3.3 1.9"/>
<line x1="502.76" y1="324.39" x2="502.76" y2="319.66" stroke="#e0562a" stroke-width="1" stroke-dasharray="3.3 1.9"/>
<line x1="474.46" y1="338.44" x2="474.46" y2="314.25" stroke="#4a9c4a" stroke-width="1" stroke-dasharray="3.3 1.9"/>
<line x1="467.95" y1="342.77" x2="467.95" y2="314.25" stroke="#4a9c4a" stroke-width="1" stroke-dasharray="3.3 1.9"/>
<line x1="466.17" y1="343.95" x2="466.17" y2="314.25" stroke="#4a9c4a" stroke-width="1" stroke-dasharray="3.3 1.9"/>
<line x1="459.2" y1="348.57" x2="459.2" y2="314.25" stroke="#4a9c4a" stroke-width="1" stroke-dasharray="3.3 1.9"/>
<line x1="468.83" y1="342.18" x2="468.83" y2="314.25" stroke="#4a9c4a" stroke-width="1" stroke-dasharray="3.3 1.9"/>
<line x1="467.2" y1="343.26" x2="467.2" y2="314.25" stroke="#4a9c4a" stroke-width="1" stroke-dasharray="3.3 1.9"/>
<line x1="466.17" y1="343.95" x2="466.17" y2="314.25" stroke="#4a9c4a" stroke-width="1" stroke-dasharray="3.3 1.9"/>
<line x1="463.65" y1="345.62" x2="463.65" y2="314.25" stroke="#4a9c4a" stroke-width="1" stroke-dasharray="3.3 1.9"/>
<line x1="471.95" y1="340.11" x2="471.95" y2="314.25" stroke="#4a9c4a" stroke-width="1" stroke-dasharray="3.3 1.9"/>
<line x1="479.21" y1="335.3" x2="479.21" y2="314.25" stroke="#4a9c4a" stroke-width="1" stroke-dasharray="3.3 1.9"/>
<line x1="472.54" y1="339.72" x2="472.54" y2="314.25" stroke="#4a9c4a" stroke-width="1" stroke-dasharray="3.3 1.9"/>
<line x1="458.02" y1="349.36" x2="458.02" y2="314.25" stroke="#4a9c4a" stroke-width="1" stroke-dasharray="3.3 1.9"/>
<line x1="460.09" y1="347.98" x2="460.09" y2="314.25" stroke="#4a9c4a" stroke-width="1" stroke-dasharray="3.3 1.9"/>
<line x1="455.35" y1="351.13" x2="455.35" y2="314.25" stroke="#4a9c4a" stroke-width="1" stroke-dasharray="3.3 1.9"/>
<line x1="454.31" y1="351.82" x2="454.31" y2="314.25" stroke="#4a9c4a" stroke-width="1" stroke-dasharray="3.3 1.9"/>
<line x1="459.65" y1="348.28" x2="459.65" y2="314.25" stroke="#4a9c4a" stroke-width="1" stroke-dasharray="3.3 1.9"/>
<line x1="457.57" y1="349.65" x2="457.57" y2="314.25" stroke="#4a9c4a" stroke-width="1" stroke-dasharray="3.3 1.9"/>
<line x1="456.39" y1="350.44" x2="456.39" y2="314.25" stroke="#4a9c4a" stroke-width="1" stroke-dasharray="3.3 1.9"/>
<line x1="457.43" y1="349.75" x2="457.43" y2="314.25" stroke="#4a9c4a" stroke-width="1" stroke-dasharray="3.3 1.9"/>
<line x1="449.28" y1="355.16" x2="449.28" y2="314.25" stroke="#4a9c4a" stroke-width="1" stroke-dasharray="3.3 1.9"/>
<line x1="442.76" y1="359.49" x2="442.76" y2="314.25" stroke="#4a9c4a" stroke-width="1" stroke-dasharray="3.3 1.9"/>
<line x1="438.46" y1="362.34" x2="438.46" y2="314.25" stroke="#4a9c4a" stroke-width="1" stroke-dasharray="3.3 1.9"/>
<line x1="436.39" y1="363.72" x2="436.39" y2="314.25" stroke="#4a9c4a" stroke-width="1" stroke-dasharray="3.3 1.9"/>
<line x1="443.5" y1="359" x2="443.5" y2="314.25" stroke="#4a9c4a" stroke-width="1" stroke-dasharray="3.3 1.9"/>
<line x1="449.28" y1="355.16" x2="449.28" y2="314.25" stroke="#4a9c4a" stroke-width="1" stroke-dasharray="3.3 1.9"/>
<line x1="445.57" y1="357.62" x2="445.57" y2="314.25" stroke="#4a9c4a" stroke-width="1" stroke-dasharray="3.3 1.9"/>
<line x1="444.54" y1="358.31" x2="444.54" y2="314.25" stroke="#4a9c4a" stroke-width="1" stroke-dasharray="3.3 1.9"/>
<line x1="449.28" y1="355.16" x2="449.28" y2="314.25" stroke="#4a9c4a" stroke-width="1" stroke-dasharray="3.3 1.9"/>
<line x1="444.54" y1="358.31" x2="444.54" y2="314.25" stroke="#4a9c4a" stroke-width="1" stroke-dasharray="3.3 1.9"/>
<line x1="442.02" y1="359.98" x2="442.02" y2="314.25" stroke="#4a9c4a" stroke-width="1" stroke-dasharray="3.3 1.9"/>
<line x1="446.61" y1="356.93" x2="446.61" y2="314.25" stroke="#4a9c4a" stroke-width="1" stroke-dasharray="3.3 1.9"/>
<line x1="435.94" y1="364.01" x2="435.94" y2="314.25" stroke="#4a9c4a" stroke-width="1" stroke-dasharray="3.3 1.9"/>
<line x1="435.5" y1="364.31" x2="435.5" y2="314.25" stroke="#4a9c4a" stroke-width="1" stroke-dasharray="3.3 1.9"/>
<line x1="440.24" y1="361.16" x2="440.24" y2="314.25" stroke="#4a9c4a" stroke-width="1" stroke-dasharray="3.3 1.9"/>
<line x1="435.94" y1="364.01" x2="435.94" y2="314.25" stroke="#4a9c4a" stroke-width="1" stroke-dasharray="3.3 1.9"/>
<line x1="432.68" y1="366.18" x2="432.68" y2="314.25" stroke="#4a9c4a" stroke-width="1" stroke-dasharray="3.3 1.9"/>
<line x1="431.2" y1="367.16" x2="431.2" y2="314.25" stroke="#4a9c4a" stroke-width="1" stroke-dasharray="3.3 1.9"/>
<line x1="427.64" y1="369.52" x2="427.64" y2="314.25" stroke="#4a9c4a" stroke-width="1" stroke-dasharray="3.3 1.9"/>
<line x1="434.16" y1="365.19" x2="434.16" y2="314.25" stroke="#4a9c4a" stroke-width="1" stroke-dasharray="3.3 1.9"/>
<line x1="429.87" y1="368.05" x2="429.87" y2="314.25" stroke="#4a9c4a" stroke-width="1" stroke-dasharray="3.3 1.9"/>
<line x1="435.94" y1="364.01" x2="435.94" y2="314.25" stroke="#4a9c4a" stroke-width="1" stroke-dasharray="3.3 1.9"/>
<line x1="425.57" y1="370.9" x2="425.57" y2="314.25" stroke="#4a9c4a" stroke-width="1" stroke-dasharray="3.3 1.9"/>
<line x1="425.13" y1="371.19" x2="425.13" y2="314.25" stroke="#4a9c4a" stroke-width="1" stroke-dasharray="3.3 1.9"/>
<line x1="421.87" y1="373.36" x2="421.87" y2="314.25" stroke="#4a9c4a" stroke-width="1" stroke-dasharray="3.3 1.9"/>
<line x1="423.35" y1="372.37" x2="423.35" y2="314.25" stroke="#4a9c4a" stroke-width="1" stroke-dasharray="3.3 1.9"/>
<line x1="419.05" y1="375.22" x2="419.05" y2="314.25" stroke="#4a9c4a" stroke-width="1" stroke-dasharray="3.3 1.9"/>
<line x1="419.05" y1="375.22" x2="419.05" y2="314.25" stroke="#4a9c4a" stroke-width="1" stroke-dasharray="3.3 1.9"/>
<line x1="418.16" y1="375.81" x2="418.16" y2="314.25" stroke="#4a9c4a" stroke-width="1" stroke-dasharray="3.3 1.9"/>
<line x1="416.83" y1="376.7" x2="416.83" y2="314.25" stroke="#4a9c4a" stroke-width="1" stroke-dasharray="3.3 1.9"/>
<line x1="419.64" y1="374.83" x2="419.64" y2="314.25" stroke="#4a9c4a" stroke-width="1" stroke-dasharray="3.3 1.9"/>
<line x1="420.68" y1="374.14" x2="420.68" y2="314.25" stroke="#4a9c4a" stroke-width="1" stroke-dasharray="3.3 1.9"/>
<line x1="413.12" y1="379.16" x2="413.12" y2="314.25" stroke="#4a9c4a" stroke-width="1" stroke-dasharray="3.3 1.9"/>
<line x1="415.35" y1="377.68" x2="415.35" y2="314.25" stroke="#4a9c4a" stroke-width="1" stroke-dasharray="3.3 1.9"/>
<line x1="487.36" y1="329.89" x2="487.36" y2="314.25" stroke="#4a9c4a" stroke-width="1" stroke-dasharray="3.3 1.9"/>
<line x1="479.21" y1="335.3" x2="479.21" y2="314.25" stroke="#4a9c4a" stroke-width="1" stroke-dasharray="3.3 1.9"/>
<line x1="473.72" y1="338.93" x2="473.72" y2="314.25" stroke="#4a9c4a" stroke-width="1" stroke-dasharray="3.3 1.9"/>
<line x1="479.65" y1="335" x2="479.65" y2="314.25" stroke="#4a9c4a" stroke-width="1" stroke-dasharray="3.3 1.9"/>
<line x1="482.47" y1="333.13" x2="482.47" y2="314.25" stroke="#4a9c4a" stroke-width="1" stroke-dasharray="3.3 1.9"/>
<line x1="486.76" y1="330.28" x2="486.76" y2="314.25" stroke="#4a9c4a" stroke-width="1" stroke-dasharray="3.3 1.9"/>
<line x1="481.28" y1="333.92" x2="481.28" y2="314.25" stroke="#4a9c4a" stroke-width="1" stroke-dasharray="3.3 1.9"/>
<line x1="473.72" y1="338.93" x2="473.72" y2="314.25" stroke="#4a9c4a" stroke-width="1" stroke-dasharray="3.3 1.9"/>
<line x1="468.39" y1="342.47" x2="468.39" y2="314.25" stroke="#4a9c4a" stroke-width="1" stroke-dasharray="3.3 1.9"/>
<line x1="460.83" y1="347.49" x2="460.83" y2="314.25" stroke="#4a9c4a" stroke-width="1" stroke-dasharray="3.3 1.9"/>
<line x1="454.91" y1="351.42" x2="454.91" y2="314.25" stroke="#4a9c4a" stroke-width="1" stroke-dasharray="3.3 1.9"/>
<line x1="466.61" y1="343.65" x2="466.61" y2="314.25" stroke="#4a9c4a" stroke-width="1" stroke-dasharray="3.3 1.9"/>
<line x1="462.91" y1="346.11" x2="462.91" y2="314.25" stroke="#4a9c4a" stroke-width="1" stroke-dasharray="3.3 1.9"/>
<line x1="459.65" y1="348.28" x2="459.65" y2="314.25" stroke="#4a9c4a" stroke-width="1" stroke-dasharray="3.3 1.9"/>
<line x1="455.35" y1="351.13" x2="455.35" y2="314.25" stroke="#4a9c4a" stroke-width="1" stroke-dasharray="3.3 1.9"/>
<line x1="452.09" y1="353.29" x2="452.09" y2="314.25" stroke="#4a9c4a" stroke-width="1" stroke-dasharray="3.3 1.9"/>
<line x1="451.5" y1="353.69" x2="451.5" y2="314.25" stroke="#4a9c4a" stroke-width="1" stroke-dasharray="3.3 1.9"/>
<line x1="454.91" y1="351.42" x2="454.91" y2="314.25" stroke="#4a9c4a" stroke-width="1" stroke-dasharray="3.3 1.9"/>
<line x1="446.76" y1="356.83" x2="446.76" y2="314.25" stroke="#4a9c4a" stroke-width="1" stroke-dasharray="3.3 1.9"/>
<line x1="442.31" y1="359.78" x2="442.31" y2="314.25" stroke="#4a9c4a" stroke-width="1" stroke-dasharray="3.3 1.9"/>
<line x1="440.24" y1="361.16" x2="440.24" y2="314.25" stroke="#4a9c4a" stroke-width="1" stroke-dasharray="3.3 1.9"/>
<line x1="438.02" y1="362.64" x2="438.02" y2="314.25" stroke="#4a9c4a" stroke-width="1" stroke-dasharray="3.3 1.9"/>
<line x1="446.76" y1="356.83" x2="446.76" y2="314.25" stroke="#4a9c4a" stroke-width="1" stroke-dasharray="3.3 1.9"/>
<line x1="436.39" y1="363.72" x2="436.39" y2="314.25" stroke="#4a9c4a" stroke-width="1" stroke-dasharray="3.3 1.9"/>
<line x1="442.02" y1="359.98" x2="442.02" y2="314.25" stroke="#4a9c4a" stroke-width="1" stroke-dasharray="3.3 1.9"/>
<line x1="438.02" y1="362.64" x2="438.02" y2="314.25" stroke="#4a9c4a" stroke-width="1" stroke-dasharray="3.3 1.9"/>
<line x1="435.94" y1="364.01" x2="435.94" y2="314.25" stroke="#4a9c4a" stroke-width="1" stroke-dasharray="3.3 1.9"/>
<line x1="439.2" y1="361.85" x2="439.2" y2="314.25" stroke="#4a9c4a" stroke-width="1" stroke-dasharray="3.3 1.9"/>
<line x1="435.94" y1="364.01" x2="435.94" y2="314.25" stroke="#4a9c4a" stroke-width="1" stroke-dasharray="3.3 1.9"/>
<line x1="441.28" y1="360.47" x2="441.28" y2="314.25" stroke="#4a9c4a" stroke-width="1" stroke-dasharray="3.3 1.9"/>
<line x1="436.98" y1="363.32" x2="436.98" y2="314.25" stroke="#4a9c4a" stroke-width="1" stroke-dasharray="3.3 1.9"/>
<line x1="438.02" y1="362.64" x2="438.02" y2="314.25" stroke="#4a9c4a" stroke-width="1" stroke-dasharray="3.3 1.9"/>
<line x1="434.76" y1="364.8" x2="434.76" y2="314.25" stroke="#4a9c4a" stroke-width="1" stroke-dasharray="3.3 1.9"/>
<line x1="431.5" y1="366.96" x2="431.5" y2="314.25" stroke="#4a9c4a" stroke-width="1" stroke-dasharray="3.3 1.9"/>
<line x1="432.68" y1="366.18" x2="432.68" y2="314.25" stroke="#4a9c4a" stroke-width="1" stroke-dasharray="3.3 1.9"/>
<line x1="429.42" y1="368.34" x2="429.42" y2="314.25" stroke="#4a9c4a" stroke-width="1" stroke-dasharray="3.3 1.9"/>
<line x1="429.42" y1="368.34" x2="429.42" y2="314.25" stroke="#4a9c4a" stroke-width="1" stroke-dasharray="3.3 1.9"/>
<line x1="425.13" y1="371.19" x2="425.13" y2="314.25" stroke="#4a9c4a" stroke-width="1" stroke-dasharray="3.3 1.9"/>
<line x1="421.87" y1="373.36" x2="421.87" y2="314.25" stroke="#4a9c4a" stroke-width="1" stroke-dasharray="3.3 1.9"/>
<line x1="425.13" y1="371.19" x2="425.13" y2="314.25" stroke="#4a9c4a" stroke-width="1" stroke-dasharray="3.3 1.9"/>
<line x1="421.87" y1="373.36" x2="421.87" y2="314.25" stroke="#4a9c4a" stroke-width="1" stroke-dasharray="3.3 1.9"/>
<line x1="429.42" y1="368.34" x2="429.42" y2="314.25" stroke="#4a9c4a" stroke-width="1" stroke-dasharray="3.3 1.9"/>
<line x1="425.13" y1="371.19" x2="425.13" y2="314.25" stroke="#4a9c4a" stroke-width="1" stroke-dasharray="3.3 1.9"/>
<line x1="421.87" y1="373.36" x2="421.87" y2="314.25" stroke="#4a9c4a" stroke-width="1" stroke-dasharray="3.3 1.9"/>
<line x1="430.46" y1="367.65" x2="430.46" y2="314.25" stroke="#4a9c4a" stroke-width="1" stroke-dasharray="3.3 1.9"/>
<line x1="428.39" y1="369.03" x2="428.39" y2="314.25" stroke="#4a9c4a" stroke-width="1" stroke-dasharray="3.3 1.9"/>
<line x1="425.13" y1="371.19" x2="425.13" y2="314.25" stroke="#4a9c4a" stroke-width="1" stroke-dasharray="3.3 1.9"/>
<line x1="421.87" y1="373.36" x2="421.87" y2="314.25" stroke="#4a9c4a" stroke-width="1" stroke-dasharray="3.3 1.9"/>
<line x1="426.16" y1="370.5" x2="426.16" y2="314.25" stroke="#4a9c4a" stroke-width="1" stroke-dasharray="3.3 1.9"/>
<line x1="423.94" y1="371.98" x2="423.94" y2="314.25" stroke="#4a9c4a" stroke-width="1" stroke-dasharray="3.3 1.9"/>
<line x1="419.64" y1="374.83" x2="419.64" y2="314.25" stroke="#4a9c4a" stroke-width="1" stroke-dasharray="3.3 1.9"/>
<line x1="415.35" y1="377.68" x2="415.35" y2="314.25" stroke="#4a9c4a" stroke-width="1" stroke-dasharray="3.3 1.9"/>
<line x1="477.43" y1="336.48" x2="477.43" y2="314.25" stroke="#4a9c4a" stroke-width="1" stroke-dasharray="3.3 1.9"/>
<line x1="460.83" y1="347.49" x2="460.83" y2="314.25" stroke="#4a9c4a" stroke-width="1" stroke-dasharray="3.3 1.9"/>
<line x1="465.13" y1="344.64" x2="465.13" y2="314.25" stroke="#4a9c4a" stroke-width="1" stroke-dasharray="3.3 1.9"/>
<line x1="449.28" y1="355.16" x2="449.28" y2="314.25" stroke="#4a9c4a" stroke-width="1" stroke-dasharray="3.3 1.9"/>
<line x1="433.27" y1="365.78" x2="433.27" y2="314.25" stroke="#4a9c4a" stroke-width="1" stroke-dasharray="3.3 1.9"/>
<line x1="427.64" y1="369.52" x2="427.64" y2="314.25" stroke="#4a9c4a" stroke-width="1" stroke-dasharray="3.3 1.9"/>
<line x1="434.31" y1="365.09" x2="434.31" y2="314.25" stroke="#4a9c4a" stroke-width="1" stroke-dasharray="3.3 1.9"/>
<line x1="435.94" y1="364.01" x2="435.94" y2="314.25" stroke="#4a9c4a" stroke-width="1" stroke-dasharray="3.3 1.9"/>
<line x1="438.02" y1="362.64" x2="438.02" y2="314.25" stroke="#4a9c4a" stroke-width="1" stroke-dasharray="3.3 1.9"/>
<line x1="444.98" y1="358.01" x2="444.98" y2="314.25" stroke="#4a9c4a" stroke-width="1" stroke-dasharray="3.3 1.9"/>
<line x1="439.2" y1="361.85" x2="439.2" y2="314.25" stroke="#4a9c4a" stroke-width="1" stroke-dasharray="3.3 1.9"/>
<line x1="433.27" y1="365.78" x2="433.27" y2="314.25" stroke="#4a9c4a" stroke-width="1" stroke-dasharray="3.3 1.9"/>
<line x1="426.76" y1="370.11" x2="426.76" y2="314.25" stroke="#4a9c4a" stroke-width="1" stroke-dasharray="3.3 1.9"/>
<line x1="420.38" y1="374.34" x2="420.38" y2="314.25" stroke="#4a9c4a" stroke-width="1" stroke-dasharray="3.3 1.9"/>
<line x1="439.2" y1="361.85" x2="439.2" y2="314.25" stroke="#4a9c4a" stroke-width="1" stroke-dasharray="3.3 1.9"/>
<line x1="448.39" y1="355.75" x2="448.39" y2="314.25" stroke="#4a9c4a" stroke-width="1" stroke-dasharray="3.3 1.9"/>
<line x1="442.31" y1="359.78" x2="442.31" y2="314.25" stroke="#4a9c4a" stroke-width="1" stroke-dasharray="3.3 1.9"/>
<line x1="432.24" y1="366.47" x2="432.24" y2="314.25" stroke="#4a9c4a" stroke-width="1" stroke-dasharray="3.3 1.9"/>
<line x1="415.94" y1="377.29" x2="415.94" y2="314.25" stroke="#4a9c4a" stroke-width="1" stroke-dasharray="3.3 1.9"/>
<line x1="508.99" y1="315.53" x2="508.99" y2="314.25" stroke="#4a9c4a" stroke-width="1" stroke-dasharray="3.3 1.9"/>
<line x1="508.99" y1="333.82" x2="508.99" y2="315.53" stroke="#e0562a" stroke-width="1" stroke-dasharray="3.3 1.9"/>
<line x1="505.14" y1="318.08" x2="505.14" y2="314.25" stroke="#4a9c4a" stroke-width="1" stroke-dasharray="3.3 1.9"/>
<line x1="505.14" y1="328.86" x2="505.14" y2="318.08" stroke="#e0562a" stroke-width="1" stroke-dasharray="3.3 1.9"/>
<line x1="487.8" y1="329.59" x2="487.8" y2="314.25" stroke="#4a9c4a" stroke-width="1" stroke-dasharray="3.3 1.9"/>
<line x1="487.8" y1="334.27" x2="487.8" y2="329.59" stroke="#e0562a" stroke-width="1" stroke-dasharray="3.3 1.9"/>
<line x1="483.65" y1="332.34" x2="483.65" y2="314.25" stroke="#4a9c4a" stroke-width="1" stroke-dasharray="3.3 1.9"/>
<line x1="446.31" y1="357.13" x2="446.31" y2="314.25" stroke="#4a9c4a" stroke-width="1" stroke-dasharray="3.3 1.9"/>
<line x1="510.02" y1="314.84" x2="510.02" y2="314.25" stroke="#4a9c4a" stroke-width="1" stroke-dasharray="3.3 1.9"/>
<line x1="510.02" y1="323.56" x2="510.02" y2="314.84" stroke="#e0562a" stroke-width="1" stroke-dasharray="3.3 1.9"/>
<line x1="506.17" y1="317.4" x2="506.17" y2="314.25" stroke="#4a9c4a" stroke-width="1" stroke-dasharray="3.3 1.9"/>
<line x1="506.17" y1="322.65" x2="506.17" y2="317.4" stroke="#e0562a" stroke-width="1" stroke-dasharray="3.3 1.9"/>
<line x1="471.65" y1="340.31" x2="471.65" y2="314.25" stroke="#4a9c4a" stroke-width="1" stroke-dasharray="3.3 1.9"/>
<line x1="503.36" y1="319.26" x2="503.36" y2="314.25" stroke="#4a9c4a" stroke-width="1" stroke-dasharray="3.3 1.9"/>
<line x1="485.58" y1="331.07" x2="485.58" y2="314.25" stroke="#4a9c4a" stroke-width="1" stroke-dasharray="3.3 1.9"/>
<line x1="510.91" y1="318.08" x2="510.91" y2="314.25" stroke="#e0562a" stroke-width="1" stroke-dasharray="3.3 1.9"/>
<circle cx="413.12" cy="379.16" r="2.15" fill="#c8c8c8" stroke="#2a2a2a" stroke-width="0.9"/>
<circle cx="415.35" cy="377.68" r="2.15" fill="#c8c8c8" stroke="#2a2a2a" stroke-width="0.9"/>
<circle cx="415.35" cy="377.68" r="2.15" fill="#c8c8c8" stroke="#2a2a2a" stroke-width="0.9"/>
<circle cx="415.94" cy="377.29" r="2.15" fill="#c8c8c8" stroke="#2a2a2a" stroke-width="0.9"/>
<circle cx="416.83" cy="376.7" r="2.15" fill="#c8c8c8" stroke="#2a2a2a" stroke-width="0.9"/>
<circle cx="418.16" cy="375.81" r="2.15" fill="#c8c8c8" stroke="#2a2a2a" stroke-width="0.9"/>
<circle cx="419.05" cy="375.22" r="2.15" fill="#c8c8c8" stroke="#2a2a2a" stroke-width="0.9"/>
<circle cx="419.05" cy="375.22" r="2.15" fill="#c8c8c8" stroke="#2a2a2a" stroke-width="0.9"/>
<circle cx="419.64" cy="374.83" r="2.15" fill="#c8c8c8" stroke="#2a2a2a" stroke-width="0.9"/>
<circle cx="419.64" cy="374.83" r="2.15" fill="#c8c8c8" stroke="#2a2a2a" stroke-width="0.9"/>
<circle cx="420.38" cy="374.34" r="2.15" fill="#c8c8c8" stroke="#2a2a2a" stroke-width="0.9"/>
<circle cx="420.68" cy="374.14" r="2.15" fill="#c8c8c8" stroke="#2a2a2a" stroke-width="0.9"/>
<circle cx="421.87" cy="373.36" r="2.15" fill="#c8c8c8" stroke="#2a2a2a" stroke-width="0.9"/>
<circle cx="421.87" cy="373.36" r="2.15" fill="#c8c8c8" stroke="#2a2a2a" stroke-width="0.9"/>
<circle cx="421.87" cy="373.36" r="2.15" fill="#c8c8c8" stroke="#2a2a2a" stroke-width="0.9"/>
<circle cx="421.87" cy="373.36" r="2.15" fill="#c8c8c8" stroke="#2a2a2a" stroke-width="0.9"/>
<circle cx="421.87" cy="373.36" r="2.15" fill="#c8c8c8" stroke="#2a2a2a" stroke-width="0.9"/>
<circle cx="423.35" cy="372.37" r="2.15" fill="#c8c8c8" stroke="#2a2a2a" stroke-width="0.9"/>
<circle cx="423.94" cy="371.98" r="2.15" fill="#c8c8c8" stroke="#2a2a2a" stroke-width="0.9"/>
<circle cx="425.13" cy="371.19" r="2.15" fill="#c8c8c8" stroke="#2a2a2a" stroke-width="0.9"/>
<circle cx="425.13" cy="371.19" r="2.15" fill="#c8c8c8" stroke="#2a2a2a" stroke-width="0.9"/>
<circle cx="425.13" cy="371.19" r="2.15" fill="#c8c8c8" stroke="#2a2a2a" stroke-width="0.9"/>
<circle cx="425.13" cy="371.19" r="2.15" fill="#c8c8c8" stroke="#2a2a2a" stroke-width="0.9"/>
<circle cx="425.13" cy="371.19" r="2.15" fill="#c8c8c8" stroke="#2a2a2a" stroke-width="0.9"/>
<circle cx="425.57" cy="370.9" r="2.15" fill="#c8c8c8" stroke="#2a2a2a" stroke-width="0.9"/>
<circle cx="426.16" cy="370.5" r="2.15" fill="#c8c8c8" stroke="#2a2a2a" stroke-width="0.9"/>
<circle cx="426.76" cy="370.11" r="2.15" fill="#c8c8c8" stroke="#2a2a2a" stroke-width="0.9"/>
<circle cx="427.64" cy="369.52" r="2.15" fill="#c8c8c8" stroke="#2a2a2a" stroke-width="0.9"/>
<circle cx="427.64" cy="369.52" r="2.15" fill="#c8c8c8" stroke="#2a2a2a" stroke-width="0.9"/>
<circle cx="428.39" cy="369.03" r="2.15" fill="#c8c8c8" stroke="#2a2a2a" stroke-width="0.9"/>
<circle cx="429.42" cy="368.34" r="2.15" fill="#c8c8c8" stroke="#2a2a2a" stroke-width="0.9"/>
<circle cx="429.42" cy="368.34" r="2.15" fill="#c8c8c8" stroke="#2a2a2a" stroke-width="0.9"/>
<circle cx="429.42" cy="368.34" r="2.15" fill="#c8c8c8" stroke="#2a2a2a" stroke-width="0.9"/>
<circle cx="429.87" cy="368.05" r="2.15" fill="#c8c8c8" stroke="#2a2a2a" stroke-width="0.9"/>
<circle cx="430.46" cy="367.65" r="2.15" fill="#c8c8c8" stroke="#2a2a2a" stroke-width="0.9"/>
<circle cx="431.2" cy="367.16" r="2.15" fill="#c8c8c8" stroke="#2a2a2a" stroke-width="0.9"/>
<circle cx="431.5" cy="366.96" r="2.15" fill="#c8c8c8" stroke="#2a2a2a" stroke-width="0.9"/>
<circle cx="432.24" cy="366.47" r="2.15" fill="#c8c8c8" stroke="#2a2a2a" stroke-width="0.9"/>
<circle cx="432.68" cy="366.18" r="2.15" fill="#c8c8c8" stroke="#2a2a2a" stroke-width="0.9"/>
<circle cx="432.68" cy="366.18" r="2.15" fill="#c8c8c8" stroke="#2a2a2a" stroke-width="0.9"/>
<circle cx="433.27" cy="365.78" r="2.15" fill="#c8c8c8" stroke="#2a2a2a" stroke-width="0.9"/>
<circle cx="433.27" cy="365.78" r="2.15" fill="#c8c8c8" stroke="#2a2a2a" stroke-width="0.9"/>
<circle cx="434.16" cy="365.19" r="2.15" fill="#c8c8c8" stroke="#2a2a2a" stroke-width="0.9"/>
<circle cx="434.31" cy="365.09" r="2.15" fill="#c8c8c8" stroke="#2a2a2a" stroke-width="0.9"/>
<circle cx="434.76" cy="364.8" r="2.15" fill="#c8c8c8" stroke="#2a2a2a" stroke-width="0.9"/>
<circle cx="435.5" cy="364.31" r="2.15" fill="#c8c8c8" stroke="#2a2a2a" stroke-width="0.9"/>
<circle cx="435.94" cy="364.01" r="2.15" fill="#c8c8c8" stroke="#2a2a2a" stroke-width="0.9"/>
<circle cx="435.94" cy="364.01" r="2.15" fill="#c8c8c8" stroke="#2a2a2a" stroke-width="0.9"/>
<circle cx="435.94" cy="364.01" r="2.15" fill="#c8c8c8" stroke="#2a2a2a" stroke-width="0.9"/>
<circle cx="435.94" cy="364.01" r="2.15" fill="#c8c8c8" stroke="#2a2a2a" stroke-width="0.9"/>
<circle cx="435.94" cy="364.01" r="2.15" fill="#c8c8c8" stroke="#2a2a2a" stroke-width="0.9"/>
<circle cx="435.94" cy="364.01" r="2.15" fill="#c8c8c8" stroke="#2a2a2a" stroke-width="0.9"/>
<circle cx="436.39" cy="363.72" r="2.15" fill="#c8c8c8" stroke="#2a2a2a" stroke-width="0.9"/>
<circle cx="436.39" cy="363.72" r="2.15" fill="#c8c8c8" stroke="#2a2a2a" stroke-width="0.9"/>
<circle cx="436.98" cy="363.32" r="2.15" fill="#c8c8c8" stroke="#2a2a2a" stroke-width="0.9"/>
<circle cx="438.02" cy="362.64" r="2.15" fill="#c8c8c8" stroke="#2a2a2a" stroke-width="0.9"/>
<circle cx="438.02" cy="362.64" r="2.15" fill="#c8c8c8" stroke="#2a2a2a" stroke-width="0.9"/>
<circle cx="438.02" cy="362.64" r="2.15" fill="#c8c8c8" stroke="#2a2a2a" stroke-width="0.9"/>
<circle cx="438.02" cy="362.64" r="2.15" fill="#c8c8c8" stroke="#2a2a2a" stroke-width="0.9"/>
<circle cx="438.46" cy="362.34" r="2.15" fill="#c8c8c8" stroke="#2a2a2a" stroke-width="0.9"/>
<circle cx="439.2" cy="361.85" r="2.15" fill="#c8c8c8" stroke="#2a2a2a" stroke-width="0.9"/>
<circle cx="439.2" cy="361.85" r="2.15" fill="#c8c8c8" stroke="#2a2a2a" stroke-width="0.9"/>
<circle cx="439.2" cy="361.85" r="2.15" fill="#c8c8c8" stroke="#2a2a2a" stroke-width="0.9"/>
<circle cx="440.24" cy="361.16" r="2.15" fill="#c8c8c8" stroke="#2a2a2a" stroke-width="0.9"/>
<circle cx="440.24" cy="361.16" r="2.15" fill="#c8c8c8" stroke="#2a2a2a" stroke-width="0.9"/>
<circle cx="441.28" cy="360.47" r="2.15" fill="#c8c8c8" stroke="#2a2a2a" stroke-width="0.9"/>
<circle cx="442.02" cy="359.98" r="2.15" fill="#c8c8c8" stroke="#2a2a2a" stroke-width="0.9"/>
<circle cx="442.02" cy="359.98" r="2.15" fill="#c8c8c8" stroke="#2a2a2a" stroke-width="0.9"/>
<circle cx="442.31" cy="359.78" r="2.15" fill="#c8c8c8" stroke="#2a2a2a" stroke-width="0.9"/>
<circle cx="442.31" cy="359.78" r="2.15" fill="#c8c8c8" stroke="#2a2a2a" stroke-width="0.9"/>
<circle cx="442.76" cy="359.49" r="2.15" fill="#c8c8c8" stroke="#2a2a2a" stroke-width="0.9"/>
<circle cx="443.5" cy="359" r="2.15" fill="#c8c8c8" stroke="#2a2a2a" stroke-width="0.9"/>
<circle cx="444.54" cy="358.31" r="2.15" fill="#c8c8c8" stroke="#2a2a2a" stroke-width="0.9"/>
<circle cx="444.54" cy="358.31" r="2.15" fill="#c8c8c8" stroke="#2a2a2a" stroke-width="0.9"/>
<circle cx="444.98" cy="358.01" r="2.15" fill="#c8c8c8" stroke="#2a2a2a" stroke-width="0.9"/>
<circle cx="445.57" cy="357.62" r="2.15" fill="#c8c8c8" stroke="#2a2a2a" stroke-width="0.9"/>
<circle cx="446.31" cy="357.13" r="2.15" fill="#c8c8c8" stroke="#2a2a2a" stroke-width="0.9"/>
<circle cx="446.61" cy="356.93" r="2.15" fill="#c8c8c8" stroke="#2a2a2a" stroke-width="0.9"/>
<circle cx="446.76" cy="356.83" r="2.15" fill="#c8c8c8" stroke="#2a2a2a" stroke-width="0.9"/>
<circle cx="446.76" cy="356.83" r="2.15" fill="#c8c8c8" stroke="#2a2a2a" stroke-width="0.9"/>
<circle cx="448.39" cy="355.75" r="2.15" fill="#c8c8c8" stroke="#2a2a2a" stroke-width="0.9"/>
<circle cx="449.28" cy="355.16" r="2.15" fill="#c8c8c8" stroke="#2a2a2a" stroke-width="0.9"/>
<circle cx="449.28" cy="355.16" r="2.15" fill="#c8c8c8" stroke="#2a2a2a" stroke-width="0.9"/>
<circle cx="449.28" cy="355.16" r="2.15" fill="#c8c8c8" stroke="#2a2a2a" stroke-width="0.9"/>
<circle cx="449.28" cy="355.16" r="2.15" fill="#c8c8c8" stroke="#2a2a2a" stroke-width="0.9"/>
<circle cx="451.5" cy="353.69" r="2.15" fill="#c8c8c8" stroke="#2a2a2a" stroke-width="0.9"/>
<circle cx="452.09" cy="353.29" r="2.15" fill="#c8c8c8" stroke="#2a2a2a" stroke-width="0.9"/>
<circle cx="454.31" cy="351.82" r="2.15" fill="#c8c8c8" stroke="#2a2a2a" stroke-width="0.9"/>
<circle cx="454.91" cy="351.42" r="2.15" fill="#c8c8c8" stroke="#2a2a2a" stroke-width="0.9"/>
<circle cx="454.91" cy="351.42" r="2.15" fill="#c8c8c8" stroke="#2a2a2a" stroke-width="0.9"/>
<circle cx="455.35" cy="351.13" r="2.15" fill="#c8c8c8" stroke="#2a2a2a" stroke-width="0.9"/>
<circle cx="455.35" cy="351.13" r="2.15" fill="#c8c8c8" stroke="#2a2a2a" stroke-width="0.9"/>
<circle cx="456.39" cy="350.44" r="2.15" fill="#c8c8c8" stroke="#2a2a2a" stroke-width="0.9"/>
<circle cx="457.43" cy="349.75" r="2.15" fill="#c8c8c8" stroke="#2a2a2a" stroke-width="0.9"/>
<circle cx="457.57" cy="349.65" r="2.15" fill="#c8c8c8" stroke="#2a2a2a" stroke-width="0.9"/>
<circle cx="458.02" cy="349.36" r="2.15" fill="#c8c8c8" stroke="#2a2a2a" stroke-width="0.9"/>
<circle cx="459.2" cy="348.57" r="2.15" fill="#c8c8c8" stroke="#2a2a2a" stroke-width="0.9"/>
<circle cx="459.65" cy="348.28" r="2.15" fill="#c8c8c8" stroke="#2a2a2a" stroke-width="0.9"/>
<circle cx="459.65" cy="348.28" r="2.15" fill="#c8c8c8" stroke="#2a2a2a" stroke-width="0.9"/>
<circle cx="460.09" cy="347.98" r="2.15" fill="#c8c8c8" stroke="#2a2a2a" stroke-width="0.9"/>
<circle cx="460.83" cy="347.49" r="2.15" fill="#c8c8c8" stroke="#2a2a2a" stroke-width="0.9"/>
<circle cx="460.83" cy="347.49" r="2.15" fill="#c8c8c8" stroke="#2a2a2a" stroke-width="0.9"/>
<circle cx="462.91" cy="346.11" r="2.15" fill="#c8c8c8" stroke="#2a2a2a" stroke-width="0.9"/>
<circle cx="463.65" cy="345.62" r="2.15" fill="#c8c8c8" stroke="#2a2a2a" stroke-width="0.9"/>
<circle cx="465.13" cy="344.64" r="2.15" fill="#c8c8c8" stroke="#2a2a2a" stroke-width="0.9"/>
<circle cx="466.17" cy="343.95" r="2.15" fill="#c8c8c8" stroke="#2a2a2a" stroke-width="0.9"/>
<circle cx="466.17" cy="343.95" r="2.15" fill="#c8c8c8" stroke="#2a2a2a" stroke-width="0.9"/>
<circle cx="466.61" cy="343.65" r="2.15" fill="#c8c8c8" stroke="#2a2a2a" stroke-width="0.9"/>
<circle cx="467.2" cy="343.26" r="2.15" fill="#c8c8c8" stroke="#2a2a2a" stroke-width="0.9"/>
<circle cx="467.95" cy="342.77" r="2.15" fill="#c8c8c8" stroke="#2a2a2a" stroke-width="0.9"/>
<circle cx="468.39" cy="342.47" r="2.15" fill="#c8c8c8" stroke="#2a2a2a" stroke-width="0.9"/>
<circle cx="468.83" cy="342.18" r="2.15" fill="#c8c8c8" stroke="#2a2a2a" stroke-width="0.9"/>
<circle cx="471.65" cy="340.31" r="2.15" fill="#c8c8c8" stroke="#2a2a2a" stroke-width="0.9"/>
<circle cx="471.95" cy="340.11" r="2.15" fill="#c8c8c8" stroke="#2a2a2a" stroke-width="0.9"/>
<circle cx="472.54" cy="339.72" r="2.15" fill="#c8c8c8" stroke="#2a2a2a" stroke-width="0.9"/>
<circle cx="473.72" cy="338.93" r="2.15" fill="#c8c8c8" stroke="#2a2a2a" stroke-width="0.9"/>
<circle cx="473.72" cy="338.93" r="2.15" fill="#c8c8c8" stroke="#2a2a2a" stroke-width="0.9"/>
<circle cx="474.46" cy="338.44" r="2.15" fill="#c8c8c8" stroke="#2a2a2a" stroke-width="0.9"/>
<circle cx="477.43" cy="336.48" r="2.15" fill="#c8c8c8" stroke="#2a2a2a" stroke-width="0.9"/>
<circle cx="479.21" cy="335.3" r="2.15" fill="#c8c8c8" stroke="#2a2a2a" stroke-width="0.9"/>
<circle cx="479.21" cy="335.3" r="2.15" fill="#c8c8c8" stroke="#2a2a2a" stroke-width="0.9"/>
<circle cx="479.65" cy="335" r="2.15" fill="#c8c8c8" stroke="#2a2a2a" stroke-width="0.9"/>
<circle cx="481.28" cy="333.92" r="2.15" fill="#c8c8c8" stroke="#2a2a2a" stroke-width="0.9"/>
<circle cx="482.47" cy="333.13" r="2.15" fill="#c8c8c8" stroke="#2a2a2a" stroke-width="0.9"/>
<circle cx="482.47" cy="333.13" r="2.15" fill="#c8c8c8" stroke="#2a2a2a" stroke-width="0.9"/>
<circle cx="483.65" cy="332.34" r="2.15" fill="#c8c8c8" stroke="#2a2a2a" stroke-width="0.9"/>
<circle cx="485.58" cy="331.07" r="2.15" fill="#c8c8c8" stroke="#2a2a2a" stroke-width="0.9"/>
<circle cx="485.58" cy="331.07" r="2.15" fill="#c8c8c8" stroke="#2a2a2a" stroke-width="0.9"/>
<circle cx="485.58" cy="331.07" r="2.15" fill="#c8c8c8" stroke="#2a2a2a" stroke-width="0.9"/>
<circle cx="486.76" cy="334.38" r="2.15" fill="#c8c8c8" stroke="#2a2a2a" stroke-width="0.9"/>
<circle cx="486.76" cy="330.28" r="2.15" fill="#c8c8c8" stroke="#2a2a2a" stroke-width="0.9"/>
<circle cx="487.36" cy="329.89" r="2.15" fill="#c8c8c8" stroke="#2a2a2a" stroke-width="0.9"/>
<circle cx="487.8" cy="334.27" r="2.15" fill="#c8c8c8" stroke="#2a2a2a" stroke-width="0.9"/>
<circle cx="491.65" cy="332.93" r="2.15" fill="#c8c8c8" stroke="#2a2a2a" stroke-width="0.9"/>
<circle cx="497.58" cy="333.6" r="2.15" fill="#c8c8c8" stroke="#2a2a2a" stroke-width="0.9"/>
<circle cx="502.76" cy="324.39" r="2.15" fill="#c8c8c8" stroke="#2a2a2a" stroke-width="0.9"/>
<circle cx="503.36" cy="319.26" r="2.15" fill="#c8c8c8" stroke="#2a2a2a" stroke-width="0.9"/>
<circle cx="505.14" cy="328.86" r="2.15" fill="#c8c8c8" stroke="#2a2a2a" stroke-width="0.9"/>
<circle cx="506.17" cy="322.65" r="2.15" fill="#c8c8c8" stroke="#2a2a2a" stroke-width="0.9"/>
<circle cx="508.99" cy="333.82" r="2.15" fill="#c8c8c8" stroke="#2a2a2a" stroke-width="0.9"/>
<circle cx="510.02" cy="323.56" r="2.15" fill="#c8c8c8" stroke="#2a2a2a" stroke-width="0.9"/>
<circle cx="510.91" cy="318.08" r="2.15" fill="#c8c8c8" stroke="#2a2a2a" stroke-width="0.9"/>
<line x1="398.9" y1="209.8" x2="398.9" y2="388.6" stroke="#666" stroke-width="1.1"/>
<line x1="398.9" y1="388.6" x2="668" y2="388.6" stroke="#555" stroke-width="1.1"/>
<line x1="398.9" y1="209.8" x2="668" y2="209.8" stroke="#555" stroke-width="1.1"/>
<line x1="668" y1="209.8" x2="668" y2="388.6" stroke="#666" stroke-width="1.1"/>
<text x="422" y="245.8" font-size="15" fill="#111">d</text><text x="432" y="245.8" font-size="15" fill="#111">)</text>
<line x1="393.8" y1="596.6" x2="400.6" y2="596.6" stroke="#555" stroke-width="1"/>
<text transform="translate(387,600.4) scale(0.92,1)" text-anchor="end" font-size="8.8" fill="#383838" stroke="#383838" stroke-width="0.2">0</text>
<line x1="393.8" y1="566.22" x2="400.6" y2="566.22" stroke="#555" stroke-width="1"/>
<text transform="translate(387,570.02) scale(0.92,1)" text-anchor="end" font-size="8.8" fill="#383838" stroke="#383838" stroke-width="0.2">1000</text>
<line x1="393.8" y1="535.84" x2="400.6" y2="535.84" stroke="#555" stroke-width="1"/>
<text transform="translate(387,539.64) scale(0.92,1)" text-anchor="end" font-size="8.8" fill="#383838" stroke="#383838" stroke-width="0.2">2000</text>
<line x1="393.8" y1="505.46" x2="400.6" y2="505.46" stroke="#555" stroke-width="1"/>
<text transform="translate(387,509.26) scale(0.92,1)" text-anchor="end" font-size="8.8" fill="#383838" stroke="#383838" stroke-width="0.2">3000</text>
<line x1="393.8" y1="475.08" x2="400.6" y2="475.08" stroke="#555" stroke-width="1"/>
<text transform="translate(387,478.88) scale(0.92,1)" text-anchor="end" font-size="8.8" fill="#383838" stroke="#383838" stroke-width="0.2">4000</text>
<line x1="393.8" y1="444.7" x2="400.6" y2="444.7" stroke="#555" stroke-width="1"/>
<text transform="translate(387,448.5) scale(0.92,1)" text-anchor="end" font-size="8.8" fill="#383838" stroke="#383838" stroke-width="0.2">5000</text>
<line x1="393.8" y1="414.32" x2="400.6" y2="414.32" stroke="#555" stroke-width="1"/>
<text transform="translate(387,418.12) scale(0.92,1)" text-anchor="end" font-size="8.8" fill="#383838" stroke="#383838" stroke-width="0.2">6000</text>
<line x1="400.6" y1="596.6" x2="400.6" y2="603.1" stroke="#555" stroke-width="1"/>
<text transform="translate(400.6,619.6) scale(0.92,1)" text-anchor="middle" font-size="8.8" fill="#383838" stroke="#383838" stroke-width="0.2">0</text>
<line x1="446.23" y1="596.6" x2="446.23" y2="603.1" stroke="#555" stroke-width="1"/>
<text transform="translate(446.23,619.6) scale(0.92,1)" text-anchor="middle" font-size="8.8" fill="#383838" stroke="#383838" stroke-width="0.2">1000</text>
<line x1="491.86" y1="596.6" x2="491.86" y2="603.1" stroke="#555" stroke-width="1"/>
<text transform="translate(491.86,619.6) scale(0.92,1)" text-anchor="middle" font-size="8.8" fill="#383838" stroke="#383838" stroke-width="0.2">2000</text>
<line x1="537.49" y1="596.6" x2="537.49" y2="603.1" stroke="#555" stroke-width="1"/>
<text transform="translate(537.49,619.6) scale(0.92,1)" text-anchor="middle" font-size="8.8" fill="#383838" stroke="#383838" stroke-width="0.2">3000</text>
<line x1="583.12" y1="596.6" x2="583.12" y2="603.1" stroke="#555" stroke-width="1"/>
<text transform="translate(583.12,619.6) scale(0.92,1)" text-anchor="middle" font-size="8.8" fill="#383838" stroke="#383838" stroke-width="0.2">4000</text>
<line x1="628.75" y1="596.6" x2="628.75" y2="603.1" stroke="#555" stroke-width="1"/>
<text transform="translate(628.75,619.6) scale(0.92,1)" text-anchor="middle" font-size="8.8" fill="#383838" stroke="#383838" stroke-width="0.2">5000</text>
<line x1="674.38" y1="596.6" x2="674.38" y2="603.1" stroke="#555" stroke-width="1"/>
<text transform="translate(674.38,619.6) scale(0.92,1)" text-anchor="middle" font-size="8.8" fill="#383838" stroke="#383838" stroke-width="0.2">6000</text>
<text transform="translate(361.3,505.45) rotate(-90)" text-anchor="middle" font-size="10.55" fill="#333">Predicted yield (kg/ha)</text>
<line x1="400.6" y1="543.76" x2="674.4" y2="543.76" stroke="#b48a8a" stroke-width="1"/>
<line x1="400.6" y1="596.6" x2="674.4" y2="414.3" stroke="#333" stroke-width="0.9"/>
<line x1="400.6" y1="596.6" x2="537.51" y2="414.3" stroke="#444" stroke-width="0.9" stroke-dasharray="3.5 3"/>
<line x1="475.6" y1="546.67" x2="475.6" y2="543.76" stroke="#4a9c4a" stroke-width="1" stroke-dasharray="3.3 1.9"/>
<line x1="475.6" y1="559.13" x2="475.6" y2="546.67" stroke="#e0562a" stroke-width="1" stroke-dasharray="3.3 1.9"/>
<line x1="468.37" y1="551.48" x2="468.37" y2="543.76" stroke="#4a9c4a" stroke-width="1" stroke-dasharray="3.3 1.9"/>
<line x1="468.37" y1="559.04" x2="468.37" y2="551.48" stroke="#e0562a" stroke-width="1" stroke-dasharray="3.3 1.9"/>
<line x1="459.18" y1="557.6" x2="459.18" y2="543.76" stroke="#4a9c4a" stroke-width="1" stroke-dasharray="3.3 1.9"/>
<line x1="459.18" y1="559.23" x2="459.18" y2="557.6" stroke="#e0562a" stroke-width="1" stroke-dasharray="3.3 1.9"/>
<line x1="460.24" y1="556.9" x2="460.24" y2="543.76" stroke="#4a9c4a" stroke-width="1" stroke-dasharray="3.3 1.9"/>
<line x1="460.24" y1="558.96" x2="460.24" y2="556.9" stroke="#e0562a" stroke-width="1" stroke-dasharray="3.3 1.9"/>
<line x1="459.18" y1="557.6" x2="459.18" y2="543.76" stroke="#4a9c4a" stroke-width="1" stroke-dasharray="3.3 1.9"/>
<line x1="459.18" y1="558.79" x2="459.18" y2="557.6" stroke="#e0562a" stroke-width="1" stroke-dasharray="3.3 1.9"/>
<line x1="457.98" y1="558.4" x2="457.98" y2="543.76" stroke="#4a9c4a" stroke-width="1" stroke-dasharray="3.3 1.9"/>
<line x1="448.19" y1="564.92" x2="448.19" y2="543.76" stroke="#4a9c4a" stroke-width="1" stroke-dasharray="3.3 1.9"/>
<line x1="466.86" y1="552.48" x2="466.86" y2="543.76" stroke="#4a9c4a" stroke-width="1" stroke-dasharray="3.3 1.9"/>
<line x1="466.86" y1="556.93" x2="466.86" y2="552.48" stroke="#e0562a" stroke-width="1" stroke-dasharray="3.3 1.9"/>
<line x1="468.97" y1="551.08" x2="468.97" y2="543.76" stroke="#4a9c4a" stroke-width="1" stroke-dasharray="3.3 1.9"/>
<line x1="468.97" y1="556.59" x2="468.97" y2="551.08" stroke="#e0562a" stroke-width="1" stroke-dasharray="3.3 1.9"/>
<line x1="464" y1="554.39" x2="464" y2="543.76" stroke="#4a9c4a" stroke-width="1" stroke-dasharray="3.3 1.9"/>
<line x1="464" y1="556.48" x2="464" y2="554.39" stroke="#e0562a" stroke-width="1" stroke-dasharray="3.3 1.9"/>
<line x1="442.01" y1="569.03" x2="442.01" y2="543.76" stroke="#4a9c4a" stroke-width="1" stroke-dasharray="3.3 1.9"/>
<line x1="435.99" y1="573.04" x2="435.99" y2="543.76" stroke="#4a9c4a" stroke-width="1" stroke-dasharray="3.3 1.9"/>
<line x1="431.02" y1="576.35" x2="431.02" y2="543.76" stroke="#4a9c4a" stroke-width="1" stroke-dasharray="3.3 1.9"/>
<line x1="430.57" y1="576.65" x2="430.57" y2="543.76" stroke="#4a9c4a" stroke-width="1" stroke-dasharray="3.3 1.9"/>
<line x1="433.13" y1="574.94" x2="433.13" y2="543.76" stroke="#4a9c4a" stroke-width="1" stroke-dasharray="3.3 1.9"/>
<line x1="421.38" y1="582.76" x2="421.38" y2="543.76" stroke="#4a9c4a" stroke-width="1" stroke-dasharray="3.3 1.9"/>
<line x1="417.77" y1="585.17" x2="417.77" y2="543.76" stroke="#4a9c4a" stroke-width="1" stroke-dasharray="3.3 1.9"/>
<line x1="425" y1="580.36" x2="425" y2="543.76" stroke="#4a9c4a" stroke-width="1" stroke-dasharray="3.3 1.9"/>
<line x1="421.68" y1="582.56" x2="421.68" y2="543.76" stroke="#4a9c4a" stroke-width="1" stroke-dasharray="3.3 1.9"/>
<line x1="416.26" y1="586.17" x2="416.26" y2="543.76" stroke="#4a9c4a" stroke-width="1" stroke-dasharray="3.3 1.9"/>
<line x1="422.89" y1="581.76" x2="422.89" y2="543.76" stroke="#4a9c4a" stroke-width="1" stroke-dasharray="3.3 1.9"/>
<line x1="423.94" y1="581.06" x2="423.94" y2="543.76" stroke="#4a9c4a" stroke-width="1" stroke-dasharray="3.3 1.9"/>
<line x1="413.4" y1="588.08" x2="413.4" y2="543.76" stroke="#4a9c4a" stroke-width="1" stroke-dasharray="3.3 1.9"/>
<line x1="433.88" y1="574.44" x2="433.88" y2="543.76" stroke="#4a9c4a" stroke-width="1" stroke-dasharray="3.3 1.9"/>
<line x1="435.99" y1="573.04" x2="435.99" y2="543.76" stroke="#4a9c4a" stroke-width="1" stroke-dasharray="3.3 1.9"/>
<line x1="430.57" y1="576.65" x2="430.57" y2="543.76" stroke="#4a9c4a" stroke-width="1" stroke-dasharray="3.3 1.9"/>
<line x1="431.02" y1="576.35" x2="431.02" y2="543.76" stroke="#4a9c4a" stroke-width="1" stroke-dasharray="3.3 1.9"/>
<line x1="423.94" y1="581.06" x2="423.94" y2="543.76" stroke="#4a9c4a" stroke-width="1" stroke-dasharray="3.3 1.9"/>
<line x1="411.89" y1="589.08" x2="411.89" y2="543.76" stroke="#4a9c4a" stroke-width="1" stroke-dasharray="3.3 1.9"/>
<line x1="448.19" y1="564.92" x2="448.19" y2="543.76" stroke="#4a9c4a" stroke-width="1" stroke-dasharray="3.3 1.9"/>
<line x1="438.25" y1="571.53" x2="438.25" y2="543.76" stroke="#4a9c4a" stroke-width="1" stroke-dasharray="3.3 1.9"/>
<line x1="425" y1="580.36" x2="425" y2="543.76" stroke="#4a9c4a" stroke-width="1" stroke-dasharray="3.3 1.9"/>
<line x1="426.2" y1="579.56" x2="426.2" y2="543.76" stroke="#4a9c4a" stroke-width="1" stroke-dasharray="3.3 1.9"/>
<line x1="421.68" y1="582.56" x2="421.68" y2="543.76" stroke="#4a9c4a" stroke-width="1" stroke-dasharray="3.3 1.9"/>
<line x1="422.89" y1="581.76" x2="422.89" y2="543.76" stroke="#4a9c4a" stroke-width="1" stroke-dasharray="3.3 1.9"/>
<line x1="430.57" y1="576.65" x2="430.57" y2="543.76" stroke="#4a9c4a" stroke-width="1" stroke-dasharray="3.3 1.9"/>
<line x1="431.62" y1="575.95" x2="431.62" y2="543.76" stroke="#4a9c4a" stroke-width="1" stroke-dasharray="3.3 1.9"/>
<line x1="421.68" y1="582.56" x2="421.68" y2="543.76" stroke="#4a9c4a" stroke-width="1" stroke-dasharray="3.3 1.9"/>
<line x1="419.57" y1="583.97" x2="419.57" y2="543.76" stroke="#4a9c4a" stroke-width="1" stroke-dasharray="3.3 1.9"/>
<line x1="412.95" y1="588.38" x2="412.95" y2="543.76" stroke="#4a9c4a" stroke-width="1" stroke-dasharray="3.3 1.9"/>
<line x1="428.31" y1="578.15" x2="428.31" y2="543.76" stroke="#4a9c4a" stroke-width="1" stroke-dasharray="3.3 1.9"/>
<line x1="431.62" y1="575.95" x2="431.62" y2="543.76" stroke="#4a9c4a" stroke-width="1" stroke-dasharray="3.3 1.9"/>
<line x1="429.51" y1="577.35" x2="429.51" y2="543.76" stroke="#4a9c4a" stroke-width="1" stroke-dasharray="3.3 1.9"/>
<line x1="422.13" y1="582.26" x2="422.13" y2="543.76" stroke="#4a9c4a" stroke-width="1" stroke-dasharray="3.3 1.9"/>
<line x1="420.63" y1="583.26" x2="420.63" y2="543.76" stroke="#4a9c4a" stroke-width="1" stroke-dasharray="3.3 1.9"/>
<line x1="419.57" y1="583.97" x2="419.57" y2="543.76" stroke="#4a9c4a" stroke-width="1" stroke-dasharray="3.3 1.9"/>
<line x1="425.75" y1="579.86" x2="425.75" y2="543.76" stroke="#4a9c4a" stroke-width="1" stroke-dasharray="3.3 1.9"/>
<line x1="418.52" y1="584.67" x2="418.52" y2="543.76" stroke="#4a9c4a" stroke-width="1" stroke-dasharray="3.3 1.9"/>
<line x1="419.12" y1="584.27" x2="419.12" y2="543.76" stroke="#4a9c4a" stroke-width="1" stroke-dasharray="3.3 1.9"/>
<line x1="455.87" y1="559.8" x2="455.87" y2="543.76" stroke="#4a9c4a" stroke-width="1" stroke-dasharray="3.3 1.9"/>
<line x1="450.75" y1="563.21" x2="450.75" y2="543.76" stroke="#4a9c4a" stroke-width="1" stroke-dasharray="3.3 1.9"/>
<line x1="451.5" y1="562.71" x2="451.5" y2="543.76" stroke="#4a9c4a" stroke-width="1" stroke-dasharray="3.3 1.9"/>
<line x1="442.62" y1="568.63" x2="442.62" y2="543.76" stroke="#4a9c4a" stroke-width="1" stroke-dasharray="3.3 1.9"/>
<line x1="439.3" y1="570.83" x2="439.3" y2="543.76" stroke="#4a9c4a" stroke-width="1" stroke-dasharray="3.3 1.9"/>
<line x1="438.25" y1="571.53" x2="438.25" y2="543.76" stroke="#4a9c4a" stroke-width="1" stroke-dasharray="3.3 1.9"/>
<line x1="435.99" y1="573.04" x2="435.99" y2="543.76" stroke="#4a9c4a" stroke-width="1" stroke-dasharray="3.3 1.9"/>
<line x1="433.88" y1="574.44" x2="433.88" y2="543.76" stroke="#4a9c4a" stroke-width="1" stroke-dasharray="3.3 1.9"/>
<line x1="431.02" y1="576.35" x2="431.02" y2="543.76" stroke="#4a9c4a" stroke-width="1" stroke-dasharray="3.3 1.9"/>
<line x1="429.51" y1="577.35" x2="429.51" y2="543.76" stroke="#4a9c4a" stroke-width="1" stroke-dasharray="3.3 1.9"/>
<line x1="417.77" y1="585.17" x2="417.77" y2="543.76" stroke="#4a9c4a" stroke-width="1" stroke-dasharray="3.3 1.9"/>
<line x1="444.87" y1="567.12" x2="444.87" y2="543.76" stroke="#4a9c4a" stroke-width="1" stroke-dasharray="3.3 1.9"/>
<line x1="435.39" y1="573.44" x2="435.39" y2="543.76" stroke="#4a9c4a" stroke-width="1" stroke-dasharray="3.3 1.9"/>
<line x1="428.31" y1="578.15" x2="428.31" y2="543.76" stroke="#4a9c4a" stroke-width="1" stroke-dasharray="3.3 1.9"/>
<line x1="424.39" y1="580.76" x2="424.39" y2="543.76" stroke="#4a9c4a" stroke-width="1" stroke-dasharray="3.3 1.9"/>
<line x1="420.03" y1="583.67" x2="420.03" y2="543.76" stroke="#4a9c4a" stroke-width="1" stroke-dasharray="3.3 1.9"/>
<line x1="417.32" y1="585.47" x2="417.32" y2="543.76" stroke="#4a9c4a" stroke-width="1" stroke-dasharray="3.3 1.9"/>
<line x1="425" y1="580.36" x2="425" y2="543.76" stroke="#4a9c4a" stroke-width="1" stroke-dasharray="3.3 1.9"/>
<line x1="449.84" y1="563.81" x2="449.84" y2="543.76" stroke="#4a9c4a" stroke-width="1" stroke-dasharray="3.3 1.9"/>
<line x1="459.18" y1="557.6" x2="459.18" y2="543.76" stroke="#4a9c4a" stroke-width="1" stroke-dasharray="3.3 1.9"/>
<line x1="463.55" y1="554.69" x2="463.55" y2="543.76" stroke="#4a9c4a" stroke-width="1" stroke-dasharray="3.3 1.9"/>
<line x1="451.5" y1="562.71" x2="451.5" y2="543.76" stroke="#4a9c4a" stroke-width="1" stroke-dasharray="3.3 1.9"/>
<line x1="454.66" y1="560.61" x2="454.66" y2="543.76" stroke="#4a9c4a" stroke-width="1" stroke-dasharray="3.3 1.9"/>
<line x1="435.39" y1="573.44" x2="435.39" y2="543.76" stroke="#4a9c4a" stroke-width="1" stroke-dasharray="3.3 1.9"/>
<line x1="423.49" y1="581.36" x2="423.49" y2="543.76" stroke="#4a9c4a" stroke-width="1" stroke-dasharray="3.3 1.9"/>
<line x1="444.87" y1="567.12" x2="444.87" y2="543.76" stroke="#4a9c4a" stroke-width="1" stroke-dasharray="3.3 1.9"/>
<line x1="442.62" y1="568.63" x2="442.62" y2="543.76" stroke="#4a9c4a" stroke-width="1" stroke-dasharray="3.3 1.9"/>
<line x1="435.39" y1="573.44" x2="435.39" y2="543.76" stroke="#4a9c4a" stroke-width="1" stroke-dasharray="3.3 1.9"/>
<line x1="423.94" y1="581.06" x2="423.94" y2="543.76" stroke="#4a9c4a" stroke-width="1" stroke-dasharray="3.3 1.9"/>
<line x1="421.68" y1="582.56" x2="421.68" y2="543.76" stroke="#4a9c4a" stroke-width="1" stroke-dasharray="3.3 1.9"/>
<line x1="418.52" y1="584.67" x2="418.52" y2="543.76" stroke="#4a9c4a" stroke-width="1" stroke-dasharray="3.3 1.9"/>
<line x1="416.26" y1="586.17" x2="416.26" y2="543.76" stroke="#4a9c4a" stroke-width="1" stroke-dasharray="3.3 1.9"/>
<line x1="433.88" y1="574.44" x2="433.88" y2="543.76" stroke="#4a9c4a" stroke-width="1" stroke-dasharray="3.3 1.9"/>
<line x1="428.31" y1="578.15" x2="428.31" y2="543.76" stroke="#4a9c4a" stroke-width="1" stroke-dasharray="3.3 1.9"/>
<line x1="421.68" y1="582.56" x2="421.68" y2="543.76" stroke="#4a9c4a" stroke-width="1" stroke-dasharray="3.3 1.9"/>
<line x1="414" y1="587.68" x2="414" y2="543.76" stroke="#4a9c4a" stroke-width="1" stroke-dasharray="3.3 1.9"/>
<line x1="459.18" y1="557.6" x2="459.18" y2="543.76" stroke="#4a9c4a" stroke-width="1" stroke-dasharray="3.3 1.9"/>
<line x1="460.84" y1="556.49" x2="460.84" y2="543.76" stroke="#4a9c4a" stroke-width="1" stroke-dasharray="3.3 1.9"/>
<line x1="446.98" y1="565.72" x2="446.98" y2="543.76" stroke="#4a9c4a" stroke-width="1" stroke-dasharray="3.3 1.9"/>
<line x1="419.12" y1="584.27" x2="419.12" y2="543.76" stroke="#4a9c4a" stroke-width="1" stroke-dasharray="3.3 1.9"/>
<line x1="452.1" y1="562.31" x2="452.1" y2="543.76" stroke="#4a9c4a" stroke-width="1" stroke-dasharray="3.3 1.9"/>
<line x1="433.88" y1="574.44" x2="433.88" y2="543.76" stroke="#4a9c4a" stroke-width="1" stroke-dasharray="3.3 1.9"/>
<line x1="431.02" y1="576.35" x2="431.02" y2="543.76" stroke="#4a9c4a" stroke-width="1" stroke-dasharray="3.3 1.9"/>
<line x1="431.02" y1="576.35" x2="431.02" y2="543.76" stroke="#4a9c4a" stroke-width="1" stroke-dasharray="3.3 1.9"/>
<line x1="447.74" y1="565.22" x2="447.74" y2="543.76" stroke="#4a9c4a" stroke-width="1" stroke-dasharray="3.3 1.9"/>
<line x1="435.99" y1="573.04" x2="435.99" y2="543.76" stroke="#4a9c4a" stroke-width="1" stroke-dasharray="3.3 1.9"/>
<line x1="431.02" y1="576.35" x2="431.02" y2="543.76" stroke="#4a9c4a" stroke-width="1" stroke-dasharray="3.3 1.9"/>
<line x1="430.12" y1="576.95" x2="430.12" y2="543.76" stroke="#4a9c4a" stroke-width="1" stroke-dasharray="3.3 1.9"/>
<line x1="428.31" y1="578.15" x2="428.31" y2="543.76" stroke="#4a9c4a" stroke-width="1" stroke-dasharray="3.3 1.9"/>
<line x1="426.2" y1="579.56" x2="426.2" y2="543.76" stroke="#4a9c4a" stroke-width="1" stroke-dasharray="3.3 1.9"/>
<line x1="426.2" y1="579.56" x2="426.2" y2="543.76" stroke="#4a9c4a" stroke-width="1" stroke-dasharray="3.3 1.9"/>
<line x1="438.85" y1="571.13" x2="438.85" y2="543.76" stroke="#4a9c4a" stroke-width="1" stroke-dasharray="3.3 1.9"/>
<line x1="410.39" y1="590.08" x2="410.39" y2="543.76" stroke="#4a9c4a" stroke-width="1" stroke-dasharray="3.3 1.9"/>
<line x1="443.37" y1="568.13" x2="443.37" y2="543.76" stroke="#4a9c4a" stroke-width="1" stroke-dasharray="3.3 1.9"/>
<line x1="435.99" y1="573.04" x2="435.99" y2="543.76" stroke="#4a9c4a" stroke-width="1" stroke-dasharray="3.3 1.9"/>
<line x1="438.25" y1="571.53" x2="438.25" y2="543.76" stroke="#4a9c4a" stroke-width="1" stroke-dasharray="3.3 1.9"/>
<line x1="423.49" y1="581.36" x2="423.49" y2="543.76" stroke="#4a9c4a" stroke-width="1" stroke-dasharray="3.3 1.9"/>
<line x1="419.12" y1="584.27" x2="419.12" y2="543.76" stroke="#4a9c4a" stroke-width="1" stroke-dasharray="3.3 1.9"/>
<line x1="430.12" y1="576.95" x2="430.12" y2="543.76" stroke="#4a9c4a" stroke-width="1" stroke-dasharray="3.3 1.9"/>
<line x1="416.26" y1="586.17" x2="416.26" y2="543.76" stroke="#4a9c4a" stroke-width="1" stroke-dasharray="3.3 1.9"/>
<line x1="431.02" y1="576.35" x2="431.02" y2="543.76" stroke="#4a9c4a" stroke-width="1" stroke-dasharray="3.3 1.9"/>
<line x1="417.77" y1="585.17" x2="417.77" y2="543.76" stroke="#4a9c4a" stroke-width="1" stroke-dasharray="3.3 1.9"/>
<line x1="428.31" y1="578.15" x2="428.31" y2="543.76" stroke="#4a9c4a" stroke-width="1" stroke-dasharray="3.3 1.9"/>
<line x1="476.2" y1="546.27" x2="476.2" y2="543.76" stroke="#4a9c4a" stroke-width="1" stroke-dasharray="3.3 1.9"/>
<line x1="476.2" y1="558.12" x2="476.2" y2="546.27" stroke="#e0562a" stroke-width="1" stroke-dasharray="3.3 1.9"/>
<line x1="479.96" y1="557.2" x2="479.96" y2="543.76" stroke="#e0562a" stroke-width="1" stroke-dasharray="3.3 1.9"/>
<line x1="468.97" y1="551.08" x2="468.97" y2="543.76" stroke="#4a9c4a" stroke-width="1" stroke-dasharray="3.3 1.9"/>
<line x1="468.97" y1="555.89" x2="468.97" y2="551.08" stroke="#e0562a" stroke-width="1" stroke-dasharray="3.3 1.9"/>
<line x1="422.13" y1="582.26" x2="422.13" y2="543.76" stroke="#4a9c4a" stroke-width="1" stroke-dasharray="3.3 1.9"/>
<line x1="453.01" y1="561.71" x2="453.01" y2="543.76" stroke="#4a9c4a" stroke-width="1" stroke-dasharray="3.3 1.9"/>
<line x1="459.63" y1="557.3" x2="459.63" y2="543.76" stroke="#4a9c4a" stroke-width="1" stroke-dasharray="3.3 1.9"/>
<line x1="467.31" y1="552.18" x2="467.31" y2="543.76" stroke="#4a9c4a" stroke-width="1" stroke-dasharray="3.3 1.9"/>
<line x1="477.1" y1="545.67" x2="477.1" y2="543.76" stroke="#4a9c4a" stroke-width="1" stroke-dasharray="3.3 1.9"/>
<line x1="477.1" y1="551.48" x2="477.1" y2="545.67" stroke="#e0562a" stroke-width="1" stroke-dasharray="3.3 1.9"/>
<line x1="478.31" y1="544.86" x2="478.31" y2="543.76" stroke="#4a9c4a" stroke-width="1" stroke-dasharray="3.3 1.9"/>
<line x1="478.31" y1="550.98" x2="478.31" y2="544.86" stroke="#e0562a" stroke-width="1" stroke-dasharray="3.3 1.9"/>
<line x1="405.39" y1="593.41" x2="405.39" y2="543.76" stroke="#4a9c4a" stroke-width="1" stroke-dasharray="3.3 1.9"/>
<line x1="407.9" y1="591.74" x2="407.9" y2="543.76" stroke="#4a9c4a" stroke-width="1" stroke-dasharray="3.3 1.9"/>
<line x1="409.95" y1="590.37" x2="409.95" y2="543.76" stroke="#4a9c4a" stroke-width="1" stroke-dasharray="3.3 1.9"/>
<circle cx="405.39" cy="593.41" r="2.15" fill="#c8c8c8" stroke="#2a2a2a" stroke-width="0.9"/>
<circle cx="407.9" cy="591.74" r="2.15" fill="#c8c8c8" stroke="#2a2a2a" stroke-width="0.9"/>
<circle cx="409.95" cy="590.37" r="2.15" fill="#c8c8c8" stroke="#2a2a2a" stroke-width="0.9"/>
<circle cx="410.39" cy="590.08" r="2.15" fill="#c8c8c8" stroke="#2a2a2a" stroke-width="0.9"/>
<circle cx="411.89" cy="589.08" r="2.15" fill="#c8c8c8" stroke="#2a2a2a" stroke-width="0.9"/>
<circle cx="412.95" cy="588.38" r="2.15" fill="#c8c8c8" stroke="#2a2a2a" stroke-width="0.9"/>
<circle cx="413.4" cy="588.08" r="2.15" fill="#c8c8c8" stroke="#2a2a2a" stroke-width="0.9"/>
<circle cx="414" cy="587.68" r="2.15" fill="#c8c8c8" stroke="#2a2a2a" stroke-width="0.9"/>
<circle cx="416.26" cy="586.17" r="2.15" fill="#c8c8c8" stroke="#2a2a2a" stroke-width="0.9"/>
<circle cx="416.26" cy="586.17" r="2.15" fill="#c8c8c8" stroke="#2a2a2a" stroke-width="0.9"/>
<circle cx="416.26" cy="586.17" r="2.15" fill="#c8c8c8" stroke="#2a2a2a" stroke-width="0.9"/>
<circle cx="417.32" cy="585.47" r="2.15" fill="#c8c8c8" stroke="#2a2a2a" stroke-width="0.9"/>
<circle cx="417.77" cy="585.17" r="2.15" fill="#c8c8c8" stroke="#2a2a2a" stroke-width="0.9"/>
<circle cx="417.77" cy="585.17" r="2.15" fill="#c8c8c8" stroke="#2a2a2a" stroke-width="0.9"/>
<circle cx="417.77" cy="585.17" r="2.15" fill="#c8c8c8" stroke="#2a2a2a" stroke-width="0.9"/>
<circle cx="418.52" cy="584.67" r="2.15" fill="#c8c8c8" stroke="#2a2a2a" stroke-width="0.9"/>
<circle cx="418.52" cy="584.67" r="2.15" fill="#c8c8c8" stroke="#2a2a2a" stroke-width="0.9"/>
<circle cx="419.12" cy="584.27" r="2.15" fill="#c8c8c8" stroke="#2a2a2a" stroke-width="0.9"/>
<circle cx="419.12" cy="584.27" r="2.15" fill="#c8c8c8" stroke="#2a2a2a" stroke-width="0.9"/>
<circle cx="419.12" cy="584.27" r="2.15" fill="#c8c8c8" stroke="#2a2a2a" stroke-width="0.9"/>
<circle cx="419.57" cy="583.97" r="2.15" fill="#c8c8c8" stroke="#2a2a2a" stroke-width="0.9"/>
<circle cx="419.57" cy="583.97" r="2.15" fill="#c8c8c8" stroke="#2a2a2a" stroke-width="0.9"/>
<circle cx="420.03" cy="583.67" r="2.15" fill="#c8c8c8" stroke="#2a2a2a" stroke-width="0.9"/>
<circle cx="420.63" cy="583.26" r="2.15" fill="#c8c8c8" stroke="#2a2a2a" stroke-width="0.9"/>
<circle cx="421.38" cy="582.76" r="2.15" fill="#c8c8c8" stroke="#2a2a2a" stroke-width="0.9"/>
<circle cx="421.68" cy="582.56" r="2.15" fill="#c8c8c8" stroke="#2a2a2a" stroke-width="0.9"/>
<circle cx="421.68" cy="582.56" r="2.15" fill="#c8c8c8" stroke="#2a2a2a" stroke-width="0.9"/>
<circle cx="421.68" cy="582.56" r="2.15" fill="#c8c8c8" stroke="#2a2a2a" stroke-width="0.9"/>
<circle cx="421.68" cy="582.56" r="2.15" fill="#c8c8c8" stroke="#2a2a2a" stroke-width="0.9"/>
<circle cx="421.68" cy="582.56" r="2.15" fill="#c8c8c8" stroke="#2a2a2a" stroke-width="0.9"/>
<circle cx="422.13" cy="582.26" r="2.15" fill="#c8c8c8" stroke="#2a2a2a" stroke-width="0.9"/>
<circle cx="422.13" cy="582.26" r="2.15" fill="#c8c8c8" stroke="#2a2a2a" stroke-width="0.9"/>
<circle cx="422.89" cy="581.76" r="2.15" fill="#c8c8c8" stroke="#2a2a2a" stroke-width="0.9"/>
<circle cx="422.89" cy="581.76" r="2.15" fill="#c8c8c8" stroke="#2a2a2a" stroke-width="0.9"/>
<circle cx="423.49" cy="581.36" r="2.15" fill="#c8c8c8" stroke="#2a2a2a" stroke-width="0.9"/>
<circle cx="423.49" cy="581.36" r="2.15" fill="#c8c8c8" stroke="#2a2a2a" stroke-width="0.9"/>
<circle cx="423.94" cy="581.06" r="2.15" fill="#c8c8c8" stroke="#2a2a2a" stroke-width="0.9"/>
<circle cx="423.94" cy="581.06" r="2.15" fill="#c8c8c8" stroke="#2a2a2a" stroke-width="0.9"/>
<circle cx="423.94" cy="581.06" r="2.15" fill="#c8c8c8" stroke="#2a2a2a" stroke-width="0.9"/>
<circle cx="424.39" cy="580.76" r="2.15" fill="#c8c8c8" stroke="#2a2a2a" stroke-width="0.9"/>
<circle cx="425" cy="580.36" r="2.15" fill="#c8c8c8" stroke="#2a2a2a" stroke-width="0.9"/>
<circle cx="425" cy="580.36" r="2.15" fill="#c8c8c8" stroke="#2a2a2a" stroke-width="0.9"/>
<circle cx="425" cy="580.36" r="2.15" fill="#c8c8c8" stroke="#2a2a2a" stroke-width="0.9"/>
<circle cx="425.75" cy="579.86" r="2.15" fill="#c8c8c8" stroke="#2a2a2a" stroke-width="0.9"/>
<circle cx="426.2" cy="579.56" r="2.15" fill="#c8c8c8" stroke="#2a2a2a" stroke-width="0.9"/>
<circle cx="426.2" cy="579.56" r="2.15" fill="#c8c8c8" stroke="#2a2a2a" stroke-width="0.9"/>
<circle cx="426.2" cy="579.56" r="2.15" fill="#c8c8c8" stroke="#2a2a2a" stroke-width="0.9"/>
<circle cx="428.31" cy="578.15" r="2.15" fill="#c8c8c8" stroke="#2a2a2a" stroke-width="0.9"/>
<circle cx="428.31" cy="578.15" r="2.15" fill="#c8c8c8" stroke="#2a2a2a" stroke-width="0.9"/>
<circle cx="428.31" cy="578.15" r="2.15" fill="#c8c8c8" stroke="#2a2a2a" stroke-width="0.9"/>
<circle cx="428.31" cy="578.15" r="2.15" fill="#c8c8c8" stroke="#2a2a2a" stroke-width="0.9"/>
<circle cx="428.31" cy="578.15" r="2.15" fill="#c8c8c8" stroke="#2a2a2a" stroke-width="0.9"/>
<circle cx="429.51" cy="577.35" r="2.15" fill="#c8c8c8" stroke="#2a2a2a" stroke-width="0.9"/>
<circle cx="429.51" cy="577.35" r="2.15" fill="#c8c8c8" stroke="#2a2a2a" stroke-width="0.9"/>
<circle cx="430.12" cy="576.95" r="2.15" fill="#c8c8c8" stroke="#2a2a2a" stroke-width="0.9"/>
<circle cx="430.12" cy="576.95" r="2.15" fill="#c8c8c8" stroke="#2a2a2a" stroke-width="0.9"/>
<circle cx="430.57" cy="576.65" r="2.15" fill="#c8c8c8" stroke="#2a2a2a" stroke-width="0.9"/>
<circle cx="430.57" cy="576.65" r="2.15" fill="#c8c8c8" stroke="#2a2a2a" stroke-width="0.9"/>
<circle cx="430.57" cy="576.65" r="2.15" fill="#c8c8c8" stroke="#2a2a2a" stroke-width="0.9"/>
<circle cx="431.02" cy="576.35" r="2.15" fill="#c8c8c8" stroke="#2a2a2a" stroke-width="0.9"/>
<circle cx="431.02" cy="576.35" r="2.15" fill="#c8c8c8" stroke="#2a2a2a" stroke-width="0.9"/>
<circle cx="431.02" cy="576.35" r="2.15" fill="#c8c8c8" stroke="#2a2a2a" stroke-width="0.9"/>
<circle cx="431.02" cy="576.35" r="2.15" fill="#c8c8c8" stroke="#2a2a2a" stroke-width="0.9"/>
<circle cx="431.02" cy="576.35" r="2.15" fill="#c8c8c8" stroke="#2a2a2a" stroke-width="0.9"/>
<circle cx="431.02" cy="576.35" r="2.15" fill="#c8c8c8" stroke="#2a2a2a" stroke-width="0.9"/>
<circle cx="431.02" cy="576.35" r="2.15" fill="#c8c8c8" stroke="#2a2a2a" stroke-width="0.9"/>
<circle cx="431.62" cy="575.95" r="2.15" fill="#c8c8c8" stroke="#2a2a2a" stroke-width="0.9"/>
<circle cx="431.62" cy="575.95" r="2.15" fill="#c8c8c8" stroke="#2a2a2a" stroke-width="0.9"/>
<circle cx="433.13" cy="574.94" r="2.15" fill="#c8c8c8" stroke="#2a2a2a" stroke-width="0.9"/>
<circle cx="433.88" cy="574.44" r="2.15" fill="#c8c8c8" stroke="#2a2a2a" stroke-width="0.9"/>
<circle cx="433.88" cy="574.44" r="2.15" fill="#c8c8c8" stroke="#2a2a2a" stroke-width="0.9"/>
<circle cx="433.88" cy="574.44" r="2.15" fill="#c8c8c8" stroke="#2a2a2a" stroke-width="0.9"/>
<circle cx="433.88" cy="574.44" r="2.15" fill="#c8c8c8" stroke="#2a2a2a" stroke-width="0.9"/>
<circle cx="435.39" cy="573.44" r="2.15" fill="#c8c8c8" stroke="#2a2a2a" stroke-width="0.9"/>
<circle cx="435.39" cy="573.44" r="2.15" fill="#c8c8c8" stroke="#2a2a2a" stroke-width="0.9"/>
<circle cx="435.39" cy="573.44" r="2.15" fill="#c8c8c8" stroke="#2a2a2a" stroke-width="0.9"/>
<circle cx="435.99" cy="573.04" r="2.15" fill="#c8c8c8" stroke="#2a2a2a" stroke-width="0.9"/>
<circle cx="435.99" cy="573.04" r="2.15" fill="#c8c8c8" stroke="#2a2a2a" stroke-width="0.9"/>
<circle cx="435.99" cy="573.04" r="2.15" fill="#c8c8c8" stroke="#2a2a2a" stroke-width="0.9"/>
<circle cx="435.99" cy="573.04" r="2.15" fill="#c8c8c8" stroke="#2a2a2a" stroke-width="0.9"/>
<circle cx="435.99" cy="573.04" r="2.15" fill="#c8c8c8" stroke="#2a2a2a" stroke-width="0.9"/>
<circle cx="438.25" cy="571.53" r="2.15" fill="#c8c8c8" stroke="#2a2a2a" stroke-width="0.9"/>
<circle cx="438.25" cy="571.53" r="2.15" fill="#c8c8c8" stroke="#2a2a2a" stroke-width="0.9"/>
<circle cx="438.25" cy="571.53" r="2.15" fill="#c8c8c8" stroke="#2a2a2a" stroke-width="0.9"/>
<circle cx="438.85" cy="571.13" r="2.15" fill="#c8c8c8" stroke="#2a2a2a" stroke-width="0.9"/>
<circle cx="439.3" cy="570.83" r="2.15" fill="#c8c8c8" stroke="#2a2a2a" stroke-width="0.9"/>
<circle cx="442.01" cy="569.03" r="2.15" fill="#c8c8c8" stroke="#2a2a2a" stroke-width="0.9"/>
<circle cx="442.62" cy="568.63" r="2.15" fill="#c8c8c8" stroke="#2a2a2a" stroke-width="0.9"/>
<circle cx="442.62" cy="568.63" r="2.15" fill="#c8c8c8" stroke="#2a2a2a" stroke-width="0.9"/>
<circle cx="443.37" cy="568.13" r="2.15" fill="#c8c8c8" stroke="#2a2a2a" stroke-width="0.9"/>
<circle cx="444.87" cy="567.12" r="2.15" fill="#c8c8c8" stroke="#2a2a2a" stroke-width="0.9"/>
<circle cx="444.87" cy="567.12" r="2.15" fill="#c8c8c8" stroke="#2a2a2a" stroke-width="0.9"/>
<circle cx="446.98" cy="565.72" r="2.15" fill="#c8c8c8" stroke="#2a2a2a" stroke-width="0.9"/>
<circle cx="447.74" cy="565.22" r="2.15" fill="#c8c8c8" stroke="#2a2a2a" stroke-width="0.9"/>
<circle cx="448.19" cy="564.92" r="2.15" fill="#c8c8c8" stroke="#2a2a2a" stroke-width="0.9"/>
<circle cx="448.19" cy="564.92" r="2.15" fill="#c8c8c8" stroke="#2a2a2a" stroke-width="0.9"/>
<circle cx="449.84" cy="563.81" r="2.15" fill="#c8c8c8" stroke="#2a2a2a" stroke-width="0.9"/>
<circle cx="450.75" cy="563.21" r="2.15" fill="#c8c8c8" stroke="#2a2a2a" stroke-width="0.9"/>
<circle cx="451.5" cy="562.71" r="2.15" fill="#c8c8c8" stroke="#2a2a2a" stroke-width="0.9"/>
<circle cx="451.5" cy="562.71" r="2.15" fill="#c8c8c8" stroke="#2a2a2a" stroke-width="0.9"/>
<circle cx="452.1" cy="562.31" r="2.15" fill="#c8c8c8" stroke="#2a2a2a" stroke-width="0.9"/>
<circle cx="453.01" cy="561.71" r="2.15" fill="#c8c8c8" stroke="#2a2a2a" stroke-width="0.9"/>
<circle cx="454.66" cy="560.61" r="2.15" fill="#c8c8c8" stroke="#2a2a2a" stroke-width="0.9"/>
<circle cx="455.87" cy="559.8" r="2.15" fill="#c8c8c8" stroke="#2a2a2a" stroke-width="0.9"/>
<circle cx="457.98" cy="558.4" r="2.15" fill="#c8c8c8" stroke="#2a2a2a" stroke-width="0.9"/>
<circle cx="459.18" cy="559.23" r="2.15" fill="#c8c8c8" stroke="#2a2a2a" stroke-width="0.9"/>
<circle cx="459.18" cy="558.79" r="2.15" fill="#c8c8c8" stroke="#2a2a2a" stroke-width="0.9"/>
<circle cx="459.18" cy="557.6" r="2.15" fill="#c8c8c8" stroke="#2a2a2a" stroke-width="0.9"/>
<circle cx="459.18" cy="557.6" r="2.15" fill="#c8c8c8" stroke="#2a2a2a" stroke-width="0.9"/>
<circle cx="459.63" cy="557.3" r="2.15" fill="#c8c8c8" stroke="#2a2a2a" stroke-width="0.9"/>
<circle cx="460.24" cy="558.96" r="2.15" fill="#c8c8c8" stroke="#2a2a2a" stroke-width="0.9"/>
<circle cx="460.84" cy="556.49" r="2.15" fill="#c8c8c8" stroke="#2a2a2a" stroke-width="0.9"/>
<circle cx="463.55" cy="554.69" r="2.15" fill="#c8c8c8" stroke="#2a2a2a" stroke-width="0.9"/>
<circle cx="464" cy="556.48" r="2.15" fill="#c8c8c8" stroke="#2a2a2a" stroke-width="0.9"/>
<circle cx="466.86" cy="556.93" r="2.15" fill="#c8c8c8" stroke="#2a2a2a" stroke-width="0.9"/>
<circle cx="467.31" cy="552.18" r="2.15" fill="#c8c8c8" stroke="#2a2a2a" stroke-width="0.9"/>
<circle cx="468.37" cy="559.04" r="2.15" fill="#c8c8c8" stroke="#2a2a2a" stroke-width="0.9"/>
<circle cx="468.97" cy="556.59" r="2.15" fill="#c8c8c8" stroke="#2a2a2a" stroke-width="0.9"/>
<circle cx="468.97" cy="555.89" r="2.15" fill="#c8c8c8" stroke="#2a2a2a" stroke-width="0.9"/>
<circle cx="475.6" cy="559.13" r="2.15" fill="#c8c8c8" stroke="#2a2a2a" stroke-width="0.9"/>
<circle cx="476.2" cy="558.12" r="2.15" fill="#c8c8c8" stroke="#2a2a2a" stroke-width="0.9"/>
<circle cx="477.1" cy="551.48" r="2.15" fill="#c8c8c8" stroke="#2a2a2a" stroke-width="0.9"/>
<circle cx="478.31" cy="550.98" r="2.15" fill="#c8c8c8" stroke="#2a2a2a" stroke-width="0.9"/>
<circle cx="479.96" cy="557.2" r="2.15" fill="#c8c8c8" stroke="#2a2a2a" stroke-width="0.9"/>
<line x1="400.6" y1="414.3" x2="400.6" y2="596.6" stroke="#666" stroke-width="1.1"/>
<line x1="400.6" y1="596.6" x2="674.4" y2="596.6" stroke="#555" stroke-width="1.1"/>
<line x1="400.6" y1="414.3" x2="674.4" y2="414.3" stroke="#555" stroke-width="1.1"/>
<line x1="674.4" y1="414.3" x2="674.4" y2="596.6" stroke="#666" stroke-width="1.1"/>
<text x="428.4" y="446.5" font-size="15" fill="#111">f</text><text x="434.6" y="446.5" font-size="15" fill="#111">)</text>
<rect x="521.5" y="351.5" width="146.5" height="37.1" fill="#fff" stroke="#555" stroke-width="1"/>
<line x1="530.2" y1="363.2" x2="546.5" y2="363.2" stroke="#e0642a" stroke-width="1.1" stroke-dasharray="4.7 6"/>
<line x1="530.2" y1="375.4" x2="546.5" y2="375.4" stroke="#3f8a3f" stroke-width="1.1" stroke-dasharray="4.7 6"/>
<text x="559.4" y="368.8" font-size="10.1" fill="#333">Unexplained yield gap</text>
<text x="559.4" y="381.2" font-size="10.1" fill="#333">Identified yield gap</text>
<text x="537.5" y="645.3" text-anchor="middle" font-size="10.4" fill="#333">Observed yield (kg/ha)</text>
</svg></body></html>
